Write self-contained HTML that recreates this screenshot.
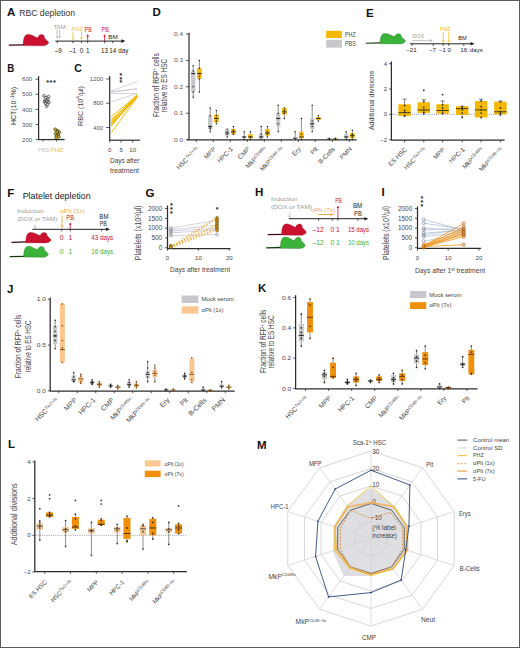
<!DOCTYPE html>
<html><head><meta charset="utf-8"><style>
html,body{margin:0;padding:0;background:#fff;}
body{width:520px;height:648px;overflow:hidden;}
svg{display:block;font-family:"Liberation Sans", sans-serif;}
</style></head><body>
<svg width="520" height="648" viewBox="0 0 520 648">
<rect x="0" y="0" width="520" height="648" fill="#fff"/>
<text x="6.90" y="15.90" font-size="11.5" fill="#111" font-weight="bold">A</text>
<text x="19.20" y="16.20" font-size="9.0" fill="#333" textLength="55.8" lengthAdjust="spacingAndGlyphs">RBC depletion</text>
<g transform="translate(0.00 0.00) scale(1.000 1.000)">
<path d="M8.8,45.1 L24.2,44.8" fill="none" stroke="#3a0a10" stroke-width="1.35"/>
<path d="M23.4,45.6 C23.0,41.5 23.8,36.0 26.5,34.8 C28.0,34.1 30.0,34.3 32.0,35.3 C34.0,36.3 36.0,37.3 37.6,38.1 C38.0,36.0 39.8,34.6 41.6,34.6 C43.4,34.6 44.8,36.0 44.4,37.9 C45.8,39.4 47.6,41.0 48.8,42.6 C47.5,44.8 45.5,45.8 43.0,45.8 Z" fill="#CC1030" stroke="#7a0818" stroke-width="0.35"/>
</g>
<line x1="55.40" y1="41.10" x2="123.40" y2="41.10" stroke="#222" stroke-width="1.0"/>
<path d="M121.40,39.30 L125.40,41.10 L121.40,42.90 Z" fill="#222" stroke="none" stroke-width="0.8"/>
<line x1="57.40" y1="41.10" x2="57.40" y2="43.20" stroke="#222" stroke-width="0.8"/>
<line x1="73.00" y1="41.10" x2="73.00" y2="43.20" stroke="#222" stroke-width="0.8"/>
<line x1="81.50" y1="41.10" x2="81.50" y2="43.20" stroke="#222" stroke-width="0.8"/>
<line x1="87.70" y1="41.10" x2="87.70" y2="43.20" stroke="#222" stroke-width="0.8"/>
<line x1="104.60" y1="41.10" x2="104.60" y2="43.20" stroke="#222" stroke-width="0.8"/>
<line x1="112.80" y1="41.10" x2="112.80" y2="43.20" stroke="#222" stroke-width="0.8"/>
<text x="58.20" y="53.00" font-size="6.3" text-anchor="middle" fill="#222">–9</text>
<text x="72.60" y="53.00" font-size="6.3" text-anchor="middle" fill="#222">–1</text>
<text x="81.50" y="53.00" font-size="6.3" text-anchor="middle" fill="#222">0</text>
<text x="87.70" y="53.00" font-size="6.3" text-anchor="middle" fill="#222">1</text>
<text x="104.60" y="53.00" font-size="6.3" text-anchor="middle" fill="#222">13</text>
<text x="112.80" y="53.00" font-size="6.3" text-anchor="middle" fill="#222">14</text>
<text x="118.30" y="53.00" font-size="6.3" fill="#222" textLength="10" lengthAdjust="spacingAndGlyphs">day</text>
<text x="53.80" y="28.50" font-size="5.8" fill="#999" textLength="11.6" lengthAdjust="spacingAndGlyphs">TAM</text>
<line x1="57.00" y1="29.50" x2="57.00" y2="37.12" stroke="#999" stroke-width="0.6"/>
<path d="M56.00,36.40 L57.00,38.20 L58.00,36.40" fill="none" stroke="#999" stroke-width="0.6"/>
<line x1="59.60" y1="29.50" x2="59.60" y2="37.12" stroke="#999" stroke-width="0.6"/>
<path d="M58.60,36.40 L59.60,38.20 L60.60,36.40" fill="none" stroke="#999" stroke-width="0.6"/>
<text x="71.50" y="30.80" font-size="5.8" fill="#EEC53A" textLength="11.5" lengthAdjust="spacingAndGlyphs">PHZ</text>
<line x1="73.00" y1="32.00" x2="73.00" y2="38.30" stroke="#E8B800" stroke-width="0.7"/>
<path d="M71.90,37.50 L73.00,39.50 L74.10,37.50" fill="none" stroke="#E8B800" stroke-width="0.7"/>
<line x1="81.50" y1="32.00" x2="81.50" y2="38.30" stroke="#E8B800" stroke-width="0.7"/>
<path d="M80.40,37.50 L81.50,39.50 L82.60,37.50" fill="none" stroke="#E8B800" stroke-width="0.7"/>
<text x="84.60" y="31.50" font-size="6.3" fill="#CC1030" textLength="7.2" lengthAdjust="spacingAndGlyphs">PB</text>
<text x="101.50" y="31.50" font-size="6.3" fill="#CC1030" textLength="7.3" lengthAdjust="spacingAndGlyphs">PB</text>
<line x1="87.70" y1="41.00" x2="87.70" y2="35.40" stroke="#CC1030" stroke-width="0.8"/>
<path d="M86.40,36.50 L87.70,34.30 L89.00,36.50 Z" fill="#CC1030" stroke="none" stroke-width="0.8"/>
<line x1="104.60" y1="41.00" x2="104.60" y2="35.40" stroke="#CC1030" stroke-width="0.8"/>
<path d="M103.30,36.50 L104.60,34.30 L105.90,36.50 Z" fill="#CC1030" stroke="none" stroke-width="0.8"/>
<text x="108.20" y="38.80" font-size="5.5" fill="#222" textLength="9.5" lengthAdjust="spacingAndGlyphs">BM</text>
<text x="7.20" y="71.60" font-size="11.5" fill="#111" font-weight="bold" textLength="7.0" lengthAdjust="spacingAndGlyphs">B</text>
<line x1="38.60" y1="75.90" x2="38.60" y2="139.60" stroke="#2c2c2c" stroke-width="1.2"/>
<line x1="35.60" y1="139.60" x2="38.60" y2="139.60" stroke="#2c2c2c" stroke-width="0.8"/>
<text x="32.20" y="141.70" font-size="6.0" text-anchor="end" fill="#555" textLength="10.2" lengthAdjust="spacingAndGlyphs">200</text>
<line x1="35.60" y1="124.50" x2="38.60" y2="124.50" stroke="#2c2c2c" stroke-width="0.8"/>
<text x="32.20" y="126.60" font-size="6.0" text-anchor="end" fill="#555" textLength="10.2" lengthAdjust="spacingAndGlyphs">300</text>
<line x1="35.60" y1="109.40" x2="38.60" y2="109.40" stroke="#2c2c2c" stroke-width="0.8"/>
<text x="32.20" y="111.50" font-size="6.0" text-anchor="end" fill="#555" textLength="10.2" lengthAdjust="spacingAndGlyphs">400</text>
<line x1="35.60" y1="94.30" x2="38.60" y2="94.30" stroke="#2c2c2c" stroke-width="0.8"/>
<text x="32.20" y="96.40" font-size="6.0" text-anchor="end" fill="#555" textLength="10.2" lengthAdjust="spacingAndGlyphs">500</text>
<line x1="35.60" y1="79.20" x2="38.60" y2="79.20" stroke="#2c2c2c" stroke-width="0.8"/>
<text x="32.20" y="81.30" font-size="6.0" text-anchor="end" fill="#555" textLength="10.2" lengthAdjust="spacingAndGlyphs">600</text>
<line x1="38.10" y1="139.60" x2="64.60" y2="139.60" stroke="#2c2c2c" stroke-width="1.2"/>
<line x1="43.00" y1="139.60" x2="43.00" y2="141.60" stroke="#2c2c2c" stroke-width="0.8"/>
<line x1="56.70" y1="139.60" x2="56.70" y2="141.60" stroke="#2c2c2c" stroke-width="0.8"/>
<circle cx="44.00" cy="95.81" r="1.3" fill="none" stroke="#3a3a3a" stroke-width="0.75"/>
<circle cx="46.00" cy="97.62" r="1.3" fill="none" stroke="#3a3a3a" stroke-width="0.75"/>
<circle cx="48.00" cy="98.83" r="1.3" fill="none" stroke="#3a3a3a" stroke-width="0.75"/>
<circle cx="45.00" cy="100.04" r="1.3" fill="none" stroke="#3a3a3a" stroke-width="0.75"/>
<circle cx="47.00" cy="101.09" r="1.3" fill="none" stroke="#3a3a3a" stroke-width="0.75"/>
<circle cx="49.00" cy="102.15" r="1.3" fill="none" stroke="#3a3a3a" stroke-width="0.75"/>
<circle cx="45.50" cy="103.36" r="1.3" fill="none" stroke="#3a3a3a" stroke-width="0.75"/>
<circle cx="47.50" cy="104.57" r="1.3" fill="none" stroke="#3a3a3a" stroke-width="0.75"/>
<circle cx="46.50" cy="106.38" r="1.3" fill="none" stroke="#3a3a3a" stroke-width="0.75"/>
<circle cx="44.50" cy="101.85" r="1.3" fill="none" stroke="#3a3a3a" stroke-width="0.75"/>
<circle cx="48.50" cy="96.56" r="1.3" fill="none" stroke="#3a3a3a" stroke-width="0.75"/>
<circle cx="55.20" cy="129.33" r="1.4" fill="#E8C010" stroke="#2a2a1a" stroke-width="0.7"/>
<circle cx="57.70" cy="130.84" r="1.4" fill="#E8C010" stroke="#2a2a1a" stroke-width="0.7"/>
<circle cx="59.20" cy="132.35" r="1.4" fill="#E8C010" stroke="#2a2a1a" stroke-width="0.7"/>
<circle cx="55.70" cy="133.56" r="1.4" fill="#E8C010" stroke="#2a2a1a" stroke-width="0.7"/>
<circle cx="58.20" cy="134.77" r="1.4" fill="#E8C010" stroke="#2a2a1a" stroke-width="0.7"/>
<circle cx="56.70" cy="135.82" r="1.4" fill="#E8C010" stroke="#2a2a1a" stroke-width="0.7"/>
<circle cx="58.70" cy="136.88" r="1.4" fill="#E8C010" stroke="#2a2a1a" stroke-width="0.7"/>
<circle cx="56.20" cy="137.34" r="1.4" fill="#E8C010" stroke="#2a2a1a" stroke-width="0.7"/>
<circle cx="57.20" cy="132.05" r="1.4" fill="#E8C010" stroke="#2a2a1a" stroke-width="0.7"/>
<text x="47.60" y="84.80" font-size="7.5" text-anchor="middle" fill="#222" font-weight="bold">*</text>
<text x="51.00" y="84.80" font-size="7.5" text-anchor="middle" fill="#222" font-weight="bold">*</text>
<text x="54.40" y="84.80" font-size="7.5" text-anchor="middle" fill="#222" font-weight="bold">*</text>
<text x="38.00" y="151.50" font-size="6.0" fill="#c8c8c8" textLength="11.4" lengthAdjust="spacingAndGlyphs">PBS</text>
<text x="50.40" y="151.50" font-size="6.0" fill="#F2C23A" textLength="12.9" lengthAdjust="spacingAndGlyphs">PHZ</text>
<text x="16.00" y="106.00" font-size="7.0" text-anchor="middle" fill="#333" transform="rotate(-90 16.00 106.00)">HCT(10<tspan font-size="4.5" dy="-2.2">−1</tspan><tspan dy="2.2">%)</tspan></text>
<text x="74.20" y="71.80" font-size="11.5" fill="#111" font-weight="bold" textLength="7.6" lengthAdjust="spacingAndGlyphs">C</text>
<line x1="109.70" y1="75.90" x2="109.70" y2="140.20" stroke="#2c2c2c" stroke-width="1.2"/>
<line x1="106.20" y1="127.50" x2="109.50" y2="127.50" stroke="#2c2c2c" stroke-width="0.8"/>
<text x="103.20" y="129.60" font-size="6.0" text-anchor="end" fill="#555">400</text>
<line x1="106.20" y1="103.22" x2="109.50" y2="103.22" stroke="#2c2c2c" stroke-width="0.8"/>
<text x="103.20" y="105.32" font-size="6.0" text-anchor="end" fill="#555">800</text>
<line x1="106.20" y1="78.94" x2="109.50" y2="78.94" stroke="#2c2c2c" stroke-width="0.8"/>
<text x="103.20" y="81.04" font-size="6.0" text-anchor="end" fill="#555">1200</text>
<line x1="109.20" y1="140.20" x2="139.90" y2="140.20" stroke="#2c2c2c" stroke-width="1.2"/>
<line x1="109.70" y1="140.20" x2="109.70" y2="142.60" stroke="#2c2c2c" stroke-width="0.8"/>
<text x="109.70" y="151.70" font-size="6.0" text-anchor="middle" fill="#444">0</text>
<line x1="121.10" y1="140.20" x2="121.10" y2="142.60" stroke="#2c2c2c" stroke-width="0.8"/>
<text x="121.10" y="151.70" font-size="6.0" text-anchor="middle" fill="#444">5</text>
<line x1="132.70" y1="140.20" x2="132.70" y2="142.60" stroke="#2c2c2c" stroke-width="0.8"/>
<text x="132.70" y="151.70" font-size="6.0" text-anchor="middle" fill="#444">10</text>
<text x="110.00" y="163.40" font-size="8" fill="#444" textLength="29.4" lengthAdjust="spacingAndGlyphs">Days after</text>
<text x="110.00" y="173.30" font-size="8" fill="#444" textLength="29" lengthAdjust="spacingAndGlyphs">treatment</text>
<text x="82.50" y="106.00" font-size="7.5" text-anchor="middle" fill="#444" textLength="40" lengthAdjust="spacingAndGlyphs" transform="rotate(-90 82.50 106.00)">RBC (10<tspan font-size="5" dy="-2.5">4</tspan><tspan dy="2.5">/µl)</tspan></text>
<line x1="111.30" y1="91.00" x2="137.20" y2="81.50" stroke="#bdb8c8" stroke-width="0.6"/>
<line x1="111.30" y1="91.60" x2="137.20" y2="89.40" stroke="#bdb8c8" stroke-width="0.6"/>
<line x1="111.30" y1="93.60" x2="137.20" y2="93.40" stroke="#bdb8c8" stroke-width="0.6"/>
<line x1="111.30" y1="101.90" x2="137.20" y2="93.40" stroke="#bdb8c8" stroke-width="0.6"/>
<line x1="111.30" y1="92.50" x2="137.20" y2="88.40" stroke="#bdb8c8" stroke-width="0.6"/>
<line x1="111.30" y1="116.60" x2="137.20" y2="95.50" stroke="#F0B800" stroke-width="0.95"/>
<line x1="111.30" y1="119.50" x2="137.20" y2="96.50" stroke="#F0B800" stroke-width="0.95"/>
<line x1="111.30" y1="121.00" x2="137.20" y2="94.30" stroke="#F0B800" stroke-width="0.95"/>
<line x1="111.30" y1="122.00" x2="137.20" y2="97.60" stroke="#F0B800" stroke-width="0.95"/>
<line x1="111.30" y1="122.80" x2="137.20" y2="95.80" stroke="#F0B800" stroke-width="0.95"/>
<line x1="111.30" y1="123.50" x2="137.20" y2="96.80" stroke="#F0B800" stroke-width="0.95"/>
<line x1="111.30" y1="124.20" x2="137.20" y2="95.00" stroke="#F0B800" stroke-width="0.95"/>
<line x1="111.30" y1="125.00" x2="137.20" y2="97.00" stroke="#F0B800" stroke-width="0.95"/>
<line x1="111.30" y1="126.00" x2="137.20" y2="96.00" stroke="#F0B800" stroke-width="0.95"/>
<line x1="111.30" y1="132.70" x2="137.20" y2="97.20" stroke="#F0B800" stroke-width="0.95"/>
<text x="120.90" y="77.62" font-size="7.0" text-anchor="middle" fill="#222" font-weight="bold">*</text>
<text x="120.90" y="81.52" font-size="7.0" text-anchor="middle" fill="#222" font-weight="bold">*</text>
<text x="120.90" y="85.32" font-size="7.0" text-anchor="middle" fill="#222" font-weight="bold">*</text>
<text x="152.50" y="16.30" font-size="11.5" fill="#111" font-weight="bold">D</text>
<line x1="189.00" y1="32.70" x2="189.00" y2="139.60" stroke="#2c2c2c" stroke-width="1.2"/>
<line x1="186.00" y1="139.60" x2="189.00" y2="139.60" stroke="#2c2c2c" stroke-width="0.8"/>
<text x="183.00" y="141.60" font-size="5.8" text-anchor="end" fill="#555" textLength="9.0" lengthAdjust="spacingAndGlyphs">0.0</text>
<line x1="186.00" y1="113.20" x2="189.00" y2="113.20" stroke="#2c2c2c" stroke-width="0.8"/>
<text x="183.00" y="115.20" font-size="5.8" text-anchor="end" fill="#555" textLength="9.0" lengthAdjust="spacingAndGlyphs">0.1</text>
<line x1="186.00" y1="86.80" x2="189.00" y2="86.80" stroke="#2c2c2c" stroke-width="0.8"/>
<text x="183.00" y="88.80" font-size="5.8" text-anchor="end" fill="#555" textLength="9.0" lengthAdjust="spacingAndGlyphs">0.2</text>
<line x1="186.00" y1="60.40" x2="189.00" y2="60.40" stroke="#2c2c2c" stroke-width="0.8"/>
<text x="183.00" y="62.40" font-size="5.8" text-anchor="end" fill="#555" textLength="9.0" lengthAdjust="spacingAndGlyphs">0.3</text>
<line x1="186.00" y1="34.00" x2="189.00" y2="34.00" stroke="#2c2c2c" stroke-width="0.8"/>
<text x="183.00" y="36.00" font-size="5.8" text-anchor="end" fill="#555" textLength="9.0" lengthAdjust="spacingAndGlyphs">0.4</text>
<line x1="187.00" y1="139.80" x2="356.70" y2="139.80" stroke="#2c2c2c" stroke-width="1.2"/>
<rect x="326.20" y="30.80" width="15.70" height="7.20" fill="#F5B800"/>
<rect x="326.20" y="39.80" width="15.70" height="7.80" fill="#C7C7CC"/>
<text x="345.00" y="36.90" font-size="6.4" fill="#444" textLength="10.8" lengthAdjust="spacingAndGlyphs">PHZ</text>
<text x="345.00" y="45.90" font-size="6.4" fill="#444" textLength="10.8" lengthAdjust="spacingAndGlyphs">PBS</text>
<text x="158.57" y="85.10" font-size="8.6" text-anchor="middle" fill="#444" textLength="64" lengthAdjust="spacingAndGlyphs" transform="rotate(-90 158.57 85.10)">Fraction of RFP<tspan font-size="5" dy="-2.5">+</tspan><tspan dy="2.5"> cells</tspan></text>
<text x="167.07" y="85.50" font-size="8.6" text-anchor="middle" fill="#444" textLength="53.5" lengthAdjust="spacingAndGlyphs" transform="rotate(-90 167.07 85.50)">relative to ES HSC</text>
<line x1="196.30" y1="139.80" x2="196.30" y2="142.00" stroke="#2c2c2c" stroke-width="0.8"/>
<line x1="193.20" y1="65.68" x2="193.20" y2="97.36" stroke="#333" stroke-width="0.55"/>
<rect x="191.10" y="70.96" width="4.20" height="21.12" fill="#C7C7CC"/>
<line x1="191.10" y1="73.60" x2="195.30" y2="73.60" stroke="#222" stroke-width="0.9"/>
<circle cx="193.20" cy="92.08" r="0.75" fill="#222"/>
<circle cx="193.20" cy="73.60" r="0.75" fill="#222"/>
<circle cx="193.20" cy="70.96" r="0.75" fill="#222"/>
<circle cx="193.20" cy="86.80" r="0.75" fill="#222"/>
<circle cx="193.20" cy="65.68" r="0.75" fill="#222" stroke="none" stroke-width="0.5"/>
<circle cx="193.20" cy="97.36" r="0.75" fill="#222" stroke="none" stroke-width="0.5"/>
<line x1="199.40" y1="60.40" x2="199.40" y2="92.08" stroke="#333" stroke-width="0.55"/>
<rect x="197.10" y="68.32" width="4.60" height="10.56" fill="#F5B800"/>
<line x1="197.10" y1="73.60" x2="201.70" y2="73.60" stroke="#222" stroke-width="0.9"/>
<circle cx="199.40" cy="78.88" r="0.75" fill="#222"/>
<circle cx="199.40" cy="73.60" r="0.75" fill="#222"/>
<circle cx="199.40" cy="68.32" r="0.75" fill="#222"/>
<circle cx="199.40" cy="76.24" r="0.75" fill="#222"/>
<circle cx="199.40" cy="60.40" r="0.75" fill="#222" stroke="none" stroke-width="0.5"/>
<circle cx="199.40" cy="92.08" r="0.75" fill="#222" stroke="none" stroke-width="0.5"/>
<line x1="213.30" y1="139.80" x2="213.30" y2="142.00" stroke="#2c2c2c" stroke-width="0.8"/>
<line x1="210.20" y1="107.92" x2="210.20" y2="131.68" stroke="#333" stroke-width="0.55"/>
<rect x="208.10" y="115.84" width="4.20" height="13.20" fill="#C7C7CC"/>
<line x1="208.10" y1="126.40" x2="212.30" y2="126.40" stroke="#222" stroke-width="0.9"/>
<circle cx="210.20" cy="129.04" r="0.75" fill="#222"/>
<circle cx="210.20" cy="126.40" r="0.75" fill="#222"/>
<circle cx="210.20" cy="115.84" r="0.75" fill="#222"/>
<circle cx="210.20" cy="127.72" r="0.75" fill="#222"/>
<circle cx="210.20" cy="107.92" r="0.75" fill="#222" stroke="none" stroke-width="0.5"/>
<circle cx="210.20" cy="131.68" r="0.75" fill="#222" stroke="none" stroke-width="0.5"/>
<line x1="216.40" y1="110.56" x2="216.40" y2="123.76" stroke="#333" stroke-width="0.55"/>
<rect x="214.10" y="114.52" width="4.60" height="7.92" fill="#F5B800"/>
<line x1="214.10" y1="118.48" x2="218.70" y2="118.48" stroke="#222" stroke-width="0.9"/>
<circle cx="216.40" cy="121.12" r="0.75" fill="#222"/>
<circle cx="216.40" cy="118.48" r="0.75" fill="#222"/>
<circle cx="216.40" cy="115.84" r="0.75" fill="#222"/>
<circle cx="216.40" cy="110.56" r="0.75" fill="#222" stroke="none" stroke-width="0.5"/>
<circle cx="216.40" cy="123.76" r="0.75" fill="#222" stroke="none" stroke-width="0.5"/>
<line x1="230.30" y1="139.80" x2="230.30" y2="142.00" stroke="#2c2c2c" stroke-width="0.8"/>
<line x1="227.20" y1="129.04" x2="227.20" y2="136.96" stroke="#333" stroke-width="0.55"/>
<rect x="225.10" y="129.04" width="4.20" height="6.60" fill="#C7C7CC"/>
<line x1="225.10" y1="133.00" x2="229.30" y2="133.00" stroke="#222" stroke-width="0.9"/>
<circle cx="227.20" cy="134.32" r="0.75" fill="#222"/>
<circle cx="227.20" cy="131.68" r="0.75" fill="#222"/>
<circle cx="227.20" cy="129.04" r="0.75" fill="#222" stroke="none" stroke-width="0.5"/>
<circle cx="227.20" cy="136.96" r="0.75" fill="#222" stroke="none" stroke-width="0.5"/>
<line x1="233.40" y1="126.40" x2="233.40" y2="134.32" stroke="#333" stroke-width="0.55"/>
<rect x="231.10" y="129.04" width="4.60" height="5.28" fill="#F5B800"/>
<line x1="231.10" y1="131.68" x2="235.70" y2="131.68" stroke="#222" stroke-width="0.9"/>
<circle cx="233.40" cy="133.00" r="0.75" fill="#222"/>
<circle cx="233.40" cy="130.36" r="0.75" fill="#222"/>
<circle cx="233.40" cy="126.40" r="0.75" fill="#222" stroke="none" stroke-width="0.5"/>
<circle cx="233.40" cy="134.32" r="0.75" fill="#222" stroke="none" stroke-width="0.5"/>
<line x1="247.30" y1="139.80" x2="247.30" y2="142.00" stroke="#2c2c2c" stroke-width="0.8"/>
<line x1="244.20" y1="131.68" x2="244.20" y2="139.60" stroke="#333" stroke-width="0.55"/>
<rect x="242.10" y="136.43" width="4.20" height="1.85" fill="#C7C7CC"/>
<line x1="242.10" y1="136.96" x2="246.30" y2="136.96" stroke="#222" stroke-width="0.9"/>
<circle cx="244.20" cy="136.96" r="0.75" fill="#222"/>
<circle cx="244.20" cy="131.68" r="0.75" fill="#222" stroke="none" stroke-width="0.5"/>
<circle cx="244.20" cy="139.60" r="0.75" fill="#222" stroke="none" stroke-width="0.5"/>
<line x1="250.40" y1="131.68" x2="250.40" y2="139.60" stroke="#333" stroke-width="0.55"/>
<rect x="248.10" y="134.32" width="4.60" height="3.96" fill="#F5B800"/>
<line x1="248.10" y1="136.96" x2="252.70" y2="136.96" stroke="#222" stroke-width="0.9"/>
<circle cx="250.40" cy="136.96" r="0.75" fill="#222"/>
<circle cx="250.40" cy="131.68" r="0.75" fill="#222" stroke="none" stroke-width="0.5"/>
<circle cx="250.40" cy="139.60" r="0.75" fill="#222" stroke="none" stroke-width="0.5"/>
<line x1="264.30" y1="139.80" x2="264.30" y2="142.00" stroke="#2c2c2c" stroke-width="0.8"/>
<line x1="261.20" y1="126.40" x2="261.20" y2="139.60" stroke="#333" stroke-width="0.55"/>
<rect x="259.10" y="134.32" width="4.20" height="3.96" fill="#C7C7CC"/>
<line x1="259.10" y1="136.96" x2="263.30" y2="136.96" stroke="#222" stroke-width="0.9"/>
<circle cx="261.20" cy="136.96" r="0.75" fill="#222"/>
<circle cx="261.20" cy="134.32" r="0.75" fill="#222"/>
<circle cx="261.20" cy="126.40" r="0.75" fill="#222" stroke="none" stroke-width="0.5"/>
<circle cx="261.20" cy="139.60" r="0.75" fill="#222" stroke="none" stroke-width="0.5"/>
<line x1="267.40" y1="126.40" x2="267.40" y2="136.96" stroke="#333" stroke-width="0.55"/>
<rect x="265.10" y="129.04" width="4.60" height="6.60" fill="#F5B800"/>
<line x1="265.10" y1="133.00" x2="269.70" y2="133.00" stroke="#222" stroke-width="0.9"/>
<circle cx="267.40" cy="134.32" r="0.75" fill="#222"/>
<circle cx="267.40" cy="131.68" r="0.75" fill="#222"/>
<circle cx="267.40" cy="126.40" r="0.75" fill="#222" stroke="none" stroke-width="0.5"/>
<circle cx="267.40" cy="136.96" r="0.75" fill="#222" stroke="none" stroke-width="0.5"/>
<line x1="281.30" y1="139.80" x2="281.30" y2="142.00" stroke="#2c2c2c" stroke-width="0.8"/>
<line x1="278.20" y1="105.28" x2="278.20" y2="131.68" stroke="#333" stroke-width="0.55"/>
<rect x="276.10" y="113.20" width="4.20" height="13.20" fill="#C7C7CC"/>
<line x1="276.10" y1="118.48" x2="280.30" y2="118.48" stroke="#222" stroke-width="0.9"/>
<circle cx="278.20" cy="123.76" r="0.75" fill="#222"/>
<circle cx="278.20" cy="118.48" r="0.75" fill="#222"/>
<circle cx="278.20" cy="113.20" r="0.75" fill="#222"/>
<circle cx="278.20" cy="105.28" r="0.75" fill="#222" stroke="none" stroke-width="0.5"/>
<circle cx="278.20" cy="131.68" r="0.75" fill="#222" stroke="none" stroke-width="0.5"/>
<line x1="284.40" y1="107.92" x2="284.40" y2="118.48" stroke="#333" stroke-width="0.55"/>
<rect x="282.10" y="107.92" width="4.60" height="6.60" fill="#F5B800"/>
<line x1="282.10" y1="111.88" x2="286.70" y2="111.88" stroke="#222" stroke-width="0.9"/>
<circle cx="284.40" cy="113.20" r="0.75" fill="#222"/>
<circle cx="284.40" cy="110.56" r="0.75" fill="#222"/>
<circle cx="284.40" cy="107.92" r="0.75" fill="#222" stroke="none" stroke-width="0.5"/>
<circle cx="284.40" cy="118.48" r="0.75" fill="#222" stroke="none" stroke-width="0.5"/>
<line x1="298.30" y1="139.80" x2="298.30" y2="142.00" stroke="#2c2c2c" stroke-width="0.8"/>
<line x1="295.20" y1="131.68" x2="295.20" y2="139.60" stroke="#333" stroke-width="0.55"/>
<rect x="293.10" y="136.96" width="4.20" height="2.64" fill="#C7C7CC"/>
<line x1="293.10" y1="138.28" x2="297.30" y2="138.28" stroke="#222" stroke-width="0.9"/>
<circle cx="295.20" cy="131.68" r="0.75" fill="#222" stroke="none" stroke-width="0.5"/>
<circle cx="295.20" cy="139.60" r="0.75" fill="#222" stroke="none" stroke-width="0.5"/>
<line x1="301.40" y1="118.48" x2="301.40" y2="139.60" stroke="#333" stroke-width="0.55"/>
<rect x="299.10" y="131.68" width="4.60" height="6.60" fill="#F5B800"/>
<line x1="299.10" y1="136.96" x2="303.70" y2="136.96" stroke="#222" stroke-width="0.9"/>
<circle cx="301.40" cy="134.32" r="0.75" fill="#222"/>
<circle cx="301.40" cy="118.48" r="0.75" fill="#222" stroke="none" stroke-width="0.5"/>
<circle cx="301.40" cy="139.60" r="0.75" fill="#222" stroke="none" stroke-width="0.5"/>
<line x1="315.30" y1="139.80" x2="315.30" y2="142.00" stroke="#2c2c2c" stroke-width="0.8"/>
<line x1="312.20" y1="105.28" x2="312.20" y2="131.68" stroke="#333" stroke-width="0.55"/>
<rect x="310.10" y="118.48" width="4.20" height="10.56" fill="#C7C7CC"/>
<line x1="310.10" y1="123.76" x2="314.30" y2="123.76" stroke="#222" stroke-width="0.9"/>
<circle cx="312.20" cy="126.40" r="0.75" fill="#222"/>
<circle cx="312.20" cy="123.76" r="0.75" fill="#222"/>
<circle cx="312.20" cy="121.12" r="0.75" fill="#222"/>
<circle cx="312.20" cy="105.28" r="0.75" fill="#222" stroke="none" stroke-width="0.5"/>
<circle cx="312.20" cy="131.68" r="0.75" fill="#222" stroke="none" stroke-width="0.5"/>
<line x1="318.40" y1="115.84" x2="318.40" y2="121.12" stroke="#333" stroke-width="0.55"/>
<rect x="316.10" y="117.16" width="4.60" height="2.64" fill="#F5B800"/>
<line x1="316.10" y1="118.48" x2="320.70" y2="118.48" stroke="#222" stroke-width="0.9"/>
<circle cx="318.40" cy="118.48" r="0.75" fill="#222"/>
<circle cx="318.40" cy="115.84" r="0.75" fill="#222" stroke="none" stroke-width="0.5"/>
<circle cx="318.40" cy="121.12" r="0.75" fill="#222" stroke="none" stroke-width="0.5"/>
<line x1="332.30" y1="139.80" x2="332.30" y2="142.00" stroke="#2c2c2c" stroke-width="0.8"/>
<line x1="329.20" y1="138.28" x2="329.20" y2="139.60" stroke="#333" stroke-width="0.55"/>
<rect x="327.10" y="138.54" width="4.20" height="1.06" fill="#C7C7CC"/>
<line x1="327.10" y1="139.07" x2="331.30" y2="139.07" stroke="#222" stroke-width="0.9"/>
<circle cx="329.20" cy="138.28" r="0.75" fill="#222" stroke="none" stroke-width="0.5"/>
<circle cx="329.20" cy="139.60" r="0.75" fill="#222" stroke="none" stroke-width="0.5"/>
<line x1="335.40" y1="138.28" x2="335.40" y2="139.60" stroke="#333" stroke-width="0.55"/>
<rect x="333.10" y="138.54" width="4.60" height="1.06" fill="#F5B800"/>
<line x1="333.10" y1="139.07" x2="337.70" y2="139.07" stroke="#222" stroke-width="0.9"/>
<circle cx="335.40" cy="138.28" r="0.75" fill="#222" stroke="none" stroke-width="0.5"/>
<circle cx="335.40" cy="139.60" r="0.75" fill="#222" stroke="none" stroke-width="0.5"/>
<line x1="349.30" y1="139.80" x2="349.30" y2="142.00" stroke="#2c2c2c" stroke-width="0.8"/>
<line x1="346.20" y1="131.68" x2="346.20" y2="139.60" stroke="#333" stroke-width="0.55"/>
<rect x="344.10" y="134.32" width="4.20" height="3.96" fill="#C7C7CC"/>
<line x1="344.10" y1="136.96" x2="348.30" y2="136.96" stroke="#222" stroke-width="0.9"/>
<circle cx="346.20" cy="136.96" r="0.75" fill="#222"/>
<circle cx="346.20" cy="131.68" r="0.75" fill="#222" stroke="none" stroke-width="0.5"/>
<circle cx="346.20" cy="139.60" r="0.75" fill="#222" stroke="none" stroke-width="0.5"/>
<line x1="352.40" y1="130.36" x2="352.40" y2="139.60" stroke="#333" stroke-width="0.55"/>
<rect x="350.10" y="133.00" width="4.60" height="5.28" fill="#F5B800"/>
<line x1="350.10" y1="135.64" x2="354.70" y2="135.64" stroke="#222" stroke-width="0.9"/>
<circle cx="352.40" cy="136.96" r="0.75" fill="#222"/>
<circle cx="352.40" cy="134.32" r="0.75" fill="#222"/>
<circle cx="352.40" cy="130.36" r="0.75" fill="#222" stroke="none" stroke-width="0.5"/>
<circle cx="352.40" cy="139.60" r="0.75" fill="#222" stroke="none" stroke-width="0.5"/>
<text x="199.30" y="149.60" font-size="6.4" text-anchor="end" fill="#444" transform="rotate(-45 199.30 149.60)">HSC<tspan font-size="4.3" dy="-2.2">Tie2+/lo</tspan></text>
<text x="216.30" y="149.60" font-size="6.4" text-anchor="end" fill="#444" transform="rotate(-45 216.30 149.60)">MPP</text>
<text x="233.30" y="149.60" font-size="6.4" text-anchor="end" fill="#444" transform="rotate(-45 233.30 149.60)">HPC-1</text>
<text x="250.30" y="149.60" font-size="6.4" text-anchor="end" fill="#444" transform="rotate(-45 250.30 149.60)">CMP</text>
<text x="267.30" y="149.60" font-size="6.4" text-anchor="end" fill="#444" transform="rotate(-45 267.30 149.60)">MkP<tspan font-size="4.3" dy="-2.2">CD48hi</tspan></text>
<text x="284.30" y="149.60" font-size="6.4" text-anchor="end" fill="#444" transform="rotate(-45 284.30 149.60)">MkP<tspan font-size="4.3" dy="-2.2">CD48−/lo</tspan></text>
<text x="301.30" y="149.60" font-size="6.4" text-anchor="end" fill="#444" transform="rotate(-45 301.30 149.60)">Ery</text>
<text x="318.30" y="149.60" font-size="6.4" text-anchor="end" fill="#444" transform="rotate(-45 318.30 149.60)">Plt</text>
<text x="335.30" y="149.60" font-size="6.4" text-anchor="end" fill="#444" transform="rotate(-45 335.30 149.60)">B-Cells</text>
<text x="352.30" y="149.60" font-size="6.4" text-anchor="end" fill="#444" transform="rotate(-45 352.30 149.60)">PMN</text>
<text x="366.00" y="17.20" font-size="11.5" fill="#111" font-weight="bold">E</text>
<g transform="translate(356.92 2.08) scale(0.998 0.913)">
<path d="M8.8,45.1 L24.2,44.8" fill="none" stroke="#143a12" stroke-width="1.35"/>
<path d="M23.4,45.6 C23.0,41.5 23.8,36.0 26.5,34.8 C28.0,34.1 30.0,34.3 32.0,35.3 C34.0,36.3 36.0,37.3 37.6,38.1 C38.0,36.0 39.8,34.6 41.6,34.6 C43.4,34.6 44.8,36.0 44.4,37.9 C45.8,39.4 47.6,41.0 48.8,42.6 C47.5,44.8 45.5,45.8 43.0,45.8 Z" fill="#3BB23A" stroke="#1a6a18" stroke-width="0.35"/>
</g>
<line x1="410.00" y1="43.80" x2="472.50" y2="43.80" stroke="#222" stroke-width="1.0"/>
<path d="M470.50,42.00 L474.50,43.80 L470.50,45.60 Z" fill="#222" stroke="none" stroke-width="0.8"/>
<line x1="412.00" y1="43.80" x2="412.00" y2="45.80" stroke="#222" stroke-width="0.8"/>
<line x1="433.25" y1="43.80" x2="433.25" y2="45.80" stroke="#222" stroke-width="0.8"/>
<line x1="443.25" y1="43.80" x2="443.25" y2="45.80" stroke="#222" stroke-width="0.8"/>
<line x1="448.75" y1="43.80" x2="448.75" y2="45.80" stroke="#222" stroke-width="0.8"/>
<line x1="463.75" y1="43.80" x2="463.75" y2="45.80" stroke="#222" stroke-width="0.8"/>
<text x="411.50" y="52.30" font-size="6.2" text-anchor="middle" fill="#222">–21</text>
<text x="432.50" y="52.30" font-size="6.2" text-anchor="middle" fill="#222">–7</text>
<text x="442.50" y="52.30" font-size="6.2" text-anchor="middle" fill="#222">–1</text>
<text x="449.20" y="52.30" font-size="6.2" text-anchor="middle" fill="#222">0</text>
<text x="463.75" y="52.30" font-size="6.2" text-anchor="middle" fill="#222">16</text>
<text x="469.80" y="52.30" font-size="6.2" fill="#222" textLength="13" lengthAdjust="spacingAndGlyphs">days</text>
<text x="412.50" y="37.60" font-size="5.8" fill="#9a9a9a" textLength="11.5" lengthAdjust="spacingAndGlyphs">DOX</text>
<line x1="412.00" y1="40.60" x2="431.00" y2="40.60" stroke="#999" stroke-width="0.6"/>
<path d="M429.5,39.4 L432.3,40.6 L429.5,41.8" fill="none" stroke="#999" stroke-width="0.6"/>
<text x="440.00" y="30.60" font-size="5.8" fill="#F2C000" textLength="10.5" lengthAdjust="spacingAndGlyphs">PHZ</text>
<line x1="443.25" y1="32.00" x2="443.25" y2="41.10" stroke="#E8B800" stroke-width="0.7"/>
<path d="M442.15,40.30 L443.25,42.30 L444.35,40.30" fill="none" stroke="#E8B800" stroke-width="0.7"/>
<line x1="448.75" y1="32.00" x2="448.75" y2="41.10" stroke="#E8B800" stroke-width="0.7"/>
<path d="M447.65,40.30 L448.75,42.30 L449.85,40.30" fill="none" stroke="#E8B800" stroke-width="0.7"/>
<text x="458.20" y="40.20" font-size="5.5" fill="#222" textLength="8.6" lengthAdjust="spacingAndGlyphs">BM</text>
<line x1="391.40" y1="61.50" x2="391.40" y2="140.20" stroke="#2c2c2c" stroke-width="1.25"/>
<line x1="389.00" y1="63.70" x2="391.40" y2="63.70" stroke="#2c2c2c" stroke-width="0.8"/>
<text x="387.20" y="65.80" font-size="6.0" text-anchor="end" fill="#444">4</text>
<line x1="389.00" y1="89.00" x2="391.40" y2="89.00" stroke="#2c2c2c" stroke-width="0.8"/>
<text x="387.20" y="91.10" font-size="6.0" text-anchor="end" fill="#444">2</text>
<line x1="389.00" y1="114.30" x2="391.40" y2="114.30" stroke="#2c2c2c" stroke-width="0.8"/>
<text x="387.20" y="116.40" font-size="6.0" text-anchor="end" fill="#444">0</text>
<line x1="389.00" y1="139.60" x2="391.40" y2="139.60" stroke="#2c2c2c" stroke-width="0.8"/>
<text x="387.20" y="141.70" font-size="6.0" text-anchor="end" fill="#444">−2</text>
<line x1="391.00" y1="140.20" x2="504.60" y2="140.20" stroke="#2c2c2c" stroke-width="1.25"/>
<line x1="392" y1="114.30" x2="504.6" y2="114.30" stroke="#444" stroke-width="0.6" stroke-dasharray="1,1.2"/>
<text x="374.35" y="100.40" font-size="7.4" text-anchor="middle" fill="#444" textLength="59.3" lengthAdjust="spacingAndGlyphs" transform="rotate(-90 374.35 100.40)">Additional divisions</text>
<line x1="404.60" y1="99.12" x2="404.60" y2="116.20" stroke="#333" stroke-width="0.6"/>
<line x1="402.40" y1="99.12" x2="406.80" y2="99.12" stroke="#333" stroke-width="0.6"/>
<rect x="398.40" y="104.31" width="12.40" height="11.64" fill="#F5B800"/>
<line x1="398.40" y1="112.66" x2="410.80" y2="112.66" stroke="#333" stroke-width="0.9"/>
<circle cx="404.60" cy="105.44" r="0.9" fill="#333" stroke="none" stroke-width="0.5"/>
<circle cx="404.60" cy="110.50" r="0.9" fill="#333" stroke="none" stroke-width="0.5"/>
<circle cx="404.60" cy="112.40" r="0.9" fill="#333" stroke="none" stroke-width="0.5"/>
<circle cx="404.60" cy="115.56" r="0.9" fill="#333" stroke="none" stroke-width="0.5"/>
<circle cx="404.60" cy="116.20" r="0.9" fill="#333" stroke="none" stroke-width="0.5"/>
<line x1="404.60" y1="140.20" x2="404.60" y2="142.40" stroke="#2c2c2c" stroke-width="0.8"/>
<text x="407.60" y="150.00" font-size="6.4" text-anchor="end" fill="#444" transform="rotate(-45 407.60 150.00)">ES HSC</text>
<line x1="423.80" y1="99.75" x2="423.80" y2="113.67" stroke="#333" stroke-width="0.6"/>
<line x1="421.60" y1="99.75" x2="426.00" y2="99.75" stroke="#333" stroke-width="0.6"/>
<rect x="417.60" y="102.28" width="12.40" height="10.75" fill="#F5B800"/>
<line x1="417.60" y1="110.00" x2="430.00" y2="110.00" stroke="#333" stroke-width="0.9"/>
<circle cx="423.80" cy="101.65" r="0.9" fill="#333" stroke="none" stroke-width="0.5"/>
<circle cx="423.80" cy="107.34" r="0.9" fill="#333" stroke="none" stroke-width="0.5"/>
<circle cx="423.80" cy="109.87" r="0.9" fill="#333" stroke="none" stroke-width="0.5"/>
<circle cx="423.80" cy="112.40" r="0.9" fill="#333" stroke="none" stroke-width="0.5"/>
<circle cx="423.80" cy="113.67" r="0.9" fill="#333" stroke="none" stroke-width="0.5"/>
<circle cx="423.80" cy="90.27" r="0.9" fill="#333" stroke="none" stroke-width="0.5"/>
<line x1="423.80" y1="140.20" x2="423.80" y2="142.40" stroke="#2c2c2c" stroke-width="0.8"/>
<text x="426.80" y="150.00" font-size="6.4" text-anchor="end" fill="#444" transform="rotate(-45 426.80 150.00)">HSC<tspan font-size="4.3" dy="-2.2">Tie2+/lo</tspan></text>
<line x1="442.60" y1="101.02" x2="442.60" y2="113.67" stroke="#333" stroke-width="0.6"/>
<line x1="440.40" y1="101.02" x2="444.80" y2="101.02" stroke="#333" stroke-width="0.6"/>
<rect x="436.40" y="104.18" width="12.40" height="9.49" fill="#F5B800"/>
<line x1="436.40" y1="110.50" x2="448.80" y2="110.50" stroke="#333" stroke-width="0.9"/>
<circle cx="442.60" cy="104.81" r="0.9" fill="#333" stroke="none" stroke-width="0.5"/>
<circle cx="442.60" cy="107.97" r="0.9" fill="#333" stroke="none" stroke-width="0.5"/>
<circle cx="442.60" cy="110.50" r="0.9" fill="#333" stroke="none" stroke-width="0.5"/>
<circle cx="442.60" cy="113.03" r="0.9" fill="#333" stroke="none" stroke-width="0.5"/>
<circle cx="442.60" cy="113.67" r="0.9" fill="#333" stroke="none" stroke-width="0.5"/>
<circle cx="442.60" cy="94.69" r="0.9" fill="#333" stroke="none" stroke-width="0.5"/>
<line x1="442.60" y1="140.20" x2="442.60" y2="142.40" stroke="#2c2c2c" stroke-width="0.8"/>
<text x="445.60" y="150.00" font-size="6.4" text-anchor="end" fill="#444" transform="rotate(-45 445.60 150.00)">MPP</text>
<line x1="462.20" y1="106.20" x2="462.20" y2="117.46" stroke="#333" stroke-width="0.6"/>
<line x1="460.00" y1="106.20" x2="464.40" y2="106.20" stroke="#333" stroke-width="0.6"/>
<rect x="456.00" y="106.20" width="12.40" height="8.73" fill="#F5B800"/>
<line x1="456.00" y1="108.61" x2="468.40" y2="108.61" stroke="#333" stroke-width="0.9"/>
<circle cx="462.20" cy="106.71" r="0.9" fill="#333" stroke="none" stroke-width="0.5"/>
<circle cx="462.20" cy="107.97" r="0.9" fill="#333" stroke="none" stroke-width="0.5"/>
<circle cx="462.20" cy="109.87" r="0.9" fill="#333" stroke="none" stroke-width="0.5"/>
<circle cx="462.20" cy="113.03" r="0.9" fill="#333" stroke="none" stroke-width="0.5"/>
<circle cx="462.20" cy="117.46" r="0.9" fill="#333" stroke="none" stroke-width="0.5"/>
<line x1="462.20" y1="140.20" x2="462.20" y2="142.40" stroke="#2c2c2c" stroke-width="0.8"/>
<text x="465.20" y="150.00" font-size="6.4" text-anchor="end" fill="#444" transform="rotate(-45 465.20 150.00)">HPC-1</text>
<line x1="481.10" y1="99.12" x2="481.10" y2="117.46" stroke="#333" stroke-width="0.6"/>
<line x1="478.90" y1="99.12" x2="483.30" y2="99.12" stroke="#333" stroke-width="0.6"/>
<rect x="474.90" y="101.02" width="12.40" height="16.44" fill="#F5B800"/>
<line x1="474.90" y1="109.87" x2="487.30" y2="109.87" stroke="#333" stroke-width="0.9"/>
<circle cx="481.10" cy="101.02" r="0.9" fill="#333" stroke="none" stroke-width="0.5"/>
<circle cx="481.10" cy="106.71" r="0.9" fill="#333" stroke="none" stroke-width="0.5"/>
<circle cx="481.10" cy="109.87" r="0.9" fill="#333" stroke="none" stroke-width="0.5"/>
<circle cx="481.10" cy="113.03" r="0.9" fill="#333" stroke="none" stroke-width="0.5"/>
<circle cx="481.10" cy="117.46" r="0.9" fill="#333" stroke="none" stroke-width="0.5"/>
<line x1="481.10" y1="140.20" x2="481.10" y2="142.40" stroke="#2c2c2c" stroke-width="0.8"/>
<text x="484.10" y="150.00" font-size="6.4" text-anchor="end" fill="#444" transform="rotate(-45 484.10 150.00)">MkP<tspan font-size="4.3" dy="-2.2">CD48hi</tspan></text>
<line x1="500.40" y1="101.02" x2="500.40" y2="114.93" stroke="#333" stroke-width="0.6"/>
<line x1="498.20" y1="101.02" x2="502.60" y2="101.02" stroke="#333" stroke-width="0.6"/>
<rect x="494.20" y="101.65" width="12.40" height="12.65" fill="#F5B800"/>
<line x1="494.20" y1="111.77" x2="506.60" y2="111.77" stroke="#333" stroke-width="0.9"/>
<circle cx="500.40" cy="101.65" r="0.9" fill="#333" stroke="none" stroke-width="0.5"/>
<circle cx="500.40" cy="107.97" r="0.9" fill="#333" stroke="none" stroke-width="0.5"/>
<circle cx="500.40" cy="111.77" r="0.9" fill="#333" stroke="none" stroke-width="0.5"/>
<circle cx="500.40" cy="113.67" r="0.9" fill="#333" stroke="none" stroke-width="0.5"/>
<circle cx="500.40" cy="114.93" r="0.9" fill="#333" stroke="none" stroke-width="0.5"/>
<line x1="500.40" y1="140.20" x2="500.40" y2="142.40" stroke="#2c2c2c" stroke-width="0.8"/>
<text x="503.40" y="150.00" font-size="6.4" text-anchor="end" fill="#444" transform="rotate(-45 503.40 150.00)">MkP<tspan font-size="4.3" dy="-2.2">CD48−/lo</tspan></text>
<text x="7.30" y="196.90" font-size="11.5" fill="#111" font-weight="bold">F</text>
<text x="22.70" y="199.20" font-size="9.7" fill="#222" textLength="68" lengthAdjust="spacingAndGlyphs">Platelet depletion</text>
<text x="16.90" y="213.00" font-size="5.8" fill="#9a9a9a" textLength="26.9" lengthAdjust="spacingAndGlyphs">Induction</text>
<text x="16.90" y="221.30" font-size="5.8" fill="#9a9a9a" textLength="40.4" lengthAdjust="spacingAndGlyphs">(DOX or TAM)</text>
<text x="60.00" y="213.00" font-size="5.8" fill="#F2AA48" textLength="24.6" lengthAdjust="spacingAndGlyphs">αPlt (1x)</text>
<line x1="62.00" y1="215.60" x2="62.00" y2="226.28" stroke="#F0A030" stroke-width="0.8"/>
<path d="M60.80,225.40 L62.00,227.60 L63.20,225.40" fill="none" stroke="#F0A030" stroke-width="0.8"/>
<text x="66.30" y="220.20" font-size="6.3" fill="#CC1030" textLength="7.7" lengthAdjust="spacingAndGlyphs">PB</text>
<line x1="70.20" y1="229.30" x2="70.20" y2="223.60" stroke="#CC1030" stroke-width="0.8"/>
<path d="M68.90,224.70 L70.20,222.50 L71.50,224.70 Z" fill="#CC1030" stroke="none" stroke-width="0.8"/>
<line x1="35.00" y1="224.50" x2="35.00" y2="227.46" stroke="#999" stroke-width="0.5"/>
<path d="M34.20,226.90 L35.00,228.30 L35.80,226.90" fill="none" stroke="#999" stroke-width="0.5"/>
<line x1="32.30" y1="229.30" x2="108.00" y2="229.30" stroke="#222" stroke-width="1.0"/>
<path d="M106.00,227.50 L110.00,229.30 L106.00,231.10 Z" fill="#222" stroke="none" stroke-width="0.8"/>
<line x1="61.70" y1="229.30" x2="61.70" y2="231.30" stroke="#222" stroke-width="0.8"/>
<line x1="70.40" y1="229.30" x2="70.40" y2="231.30" stroke="#222" stroke-width="0.8"/>
<line x1="101.60" y1="229.30" x2="101.60" y2="231.30" stroke="#222" stroke-width="0.8"/>
<text x="99.30" y="218.80" font-size="6.7" fill="#222" textLength="9.2" lengthAdjust="spacingAndGlyphs">BM</text>
<text x="99.80" y="226.20" font-size="6.7" fill="#222" textLength="7.0" lengthAdjust="spacingAndGlyphs">PB</text>
<g transform="translate(2.74 200.68) scale(0.995 0.922)">
<path d="M8.8,45.1 L24.2,44.8" fill="none" stroke="#3a0a10" stroke-width="1.35"/>
<path d="M23.4,45.6 C23.0,41.5 23.8,36.0 26.5,34.8 C28.0,34.1 30.0,34.3 32.0,35.3 C34.0,36.3 36.0,37.3 37.6,38.1 C38.0,36.0 39.8,34.6 41.6,34.6 C43.4,34.6 44.8,36.0 44.4,37.9 C45.8,39.4 47.6,41.0 48.8,42.6 C47.5,44.8 45.5,45.8 43.0,45.8 Z" fill="#CC1030" stroke="#7a0818" stroke-width="0.35"/>
</g>
<g transform="translate(1.16 213.09) scale(0.970 0.965)">
<path d="M8.8,45.1 L24.2,44.8" fill="none" stroke="#143a12" stroke-width="1.35"/>
<path d="M23.4,45.6 C23.0,41.5 23.8,36.0 26.5,34.8 C28.0,34.1 30.0,34.3 32.0,35.3 C34.0,36.3 36.0,37.3 37.6,38.1 C38.0,36.0 39.8,34.6 41.6,34.6 C43.4,34.6 44.8,36.0 44.4,37.9 C45.8,39.4 47.6,41.0 48.8,42.6 C47.5,44.8 45.5,45.8 43.0,45.8 Z" fill="#3BB23A" stroke="#1a6a18" stroke-width="0.35"/>
</g>
<text x="61.70" y="240.10" font-size="6.8" text-anchor="middle" fill="#CC1030">0</text>
<text x="61.70" y="254.40" font-size="6.8" text-anchor="middle" fill="#3BB23A">0</text>
<text x="70.40" y="240.10" font-size="6.8" text-anchor="middle" fill="#CC1030">1</text>
<text x="70.40" y="254.40" font-size="6.8" text-anchor="middle" fill="#3BB23A">1</text>
<text x="91.20" y="240.10" font-size="6.8" fill="#CC1030" textLength="22" lengthAdjust="spacingAndGlyphs">43 days</text>
<text x="91.20" y="254.40" font-size="6.8" fill="#3BB23A" textLength="22" lengthAdjust="spacingAndGlyphs">16 days</text>
<text x="145.50" y="197.20" font-size="11.5" fill="#111" font-weight="bold">G</text>
<line x1="167.50" y1="205.50" x2="167.50" y2="248.50" stroke="#2c2c2c" stroke-width="1.25"/>
<line x1="165.00" y1="247.80" x2="167.50" y2="247.80" stroke="#2c2c2c" stroke-width="0.8"/>
<text x="162.20" y="250.00" font-size="6.4" text-anchor="end" fill="#444">0</text>
<line x1="165.00" y1="237.98" x2="167.50" y2="237.98" stroke="#2c2c2c" stroke-width="0.8"/>
<text x="162.20" y="240.18" font-size="6.4" text-anchor="end" fill="#444">500</text>
<line x1="165.00" y1="228.15" x2="167.50" y2="228.15" stroke="#2c2c2c" stroke-width="0.8"/>
<text x="162.20" y="230.35" font-size="6.4" text-anchor="end" fill="#444">1000</text>
<line x1="165.00" y1="218.33" x2="167.50" y2="218.33" stroke="#2c2c2c" stroke-width="0.8"/>
<text x="162.20" y="220.53" font-size="6.4" text-anchor="end" fill="#444">1500</text>
<line x1="165.00" y1="208.50" x2="167.50" y2="208.50" stroke="#2c2c2c" stroke-width="0.8"/>
<text x="162.20" y="210.70" font-size="6.4" text-anchor="end" fill="#444">2000</text>
<line x1="167.00" y1="248.50" x2="230.50" y2="248.50" stroke="#2c2c2c" stroke-width="1.25"/>
<line x1="167.50" y1="248.50" x2="167.50" y2="250.70" stroke="#2c2c2c" stroke-width="0.8"/>
<text x="167.50" y="259.50" font-size="6.0" text-anchor="middle" fill="#444">0</text>
<line x1="198.40" y1="248.50" x2="198.40" y2="250.70" stroke="#2c2c2c" stroke-width="0.8"/>
<text x="198.40" y="259.50" font-size="6.0" text-anchor="middle" fill="#444">10</text>
<line x1="229.30" y1="248.50" x2="229.30" y2="250.70" stroke="#2c2c2c" stroke-width="0.8"/>
<text x="229.30" y="259.50" font-size="6.0" text-anchor="middle" fill="#444">20</text>
<text x="170.00" y="272.20" font-size="7.6" fill="#444" textLength="60" lengthAdjust="spacingAndGlyphs">Days after treatment</text>
<text x="141.30" y="232.80" font-size="8.2" text-anchor="middle" fill="#444" textLength="55" lengthAdjust="spacingAndGlyphs" transform="rotate(-90 141.30 232.80)">Platelets (x10<tspan font-size="5.4" dy="-2.7">3</tspan><tspan dy="2.7">/µl)</tspan></text>
<line x1="170.80" y1="228.15" x2="217.00" y2="220.29" stroke="#c4c4d4" stroke-width="0.75"/>
<line x1="170.80" y1="229.72" x2="217.00" y2="225.20" stroke="#c4c4d4" stroke-width="0.75"/>
<line x1="170.80" y1="231.10" x2="217.00" y2="228.15" stroke="#c4c4d4" stroke-width="0.75"/>
<line x1="170.80" y1="232.87" x2="217.00" y2="230.12" stroke="#c4c4d4" stroke-width="0.75"/>
<line x1="170.80" y1="235.62" x2="217.00" y2="234.44" stroke="#c4c4d4" stroke-width="0.75"/>
<line x1="170.8" y1="247.21" x2="217" y2="217.93" stroke="#EBB040" stroke-width="2.0" stroke-dasharray="1.5,1.5" opacity="0.85"/>
<line x1="170.8" y1="246.62" x2="217" y2="225.20" stroke="#EBB040" stroke-width="2.0" stroke-dasharray="1.5,1.5" opacity="0.85"/>
<line x1="170.8" y1="247.41" x2="217" y2="229.13" stroke="#EBB040" stroke-width="2.0" stroke-dasharray="1.5,1.5" opacity="0.85"/>
<circle cx="170.80" cy="228.15" r="1.5" fill="none" stroke="#7a7a8a" stroke-width="0.6"/>
<circle cx="170.80" cy="230.12" r="1.5" fill="none" stroke="#7a7a8a" stroke-width="0.6"/>
<circle cx="170.80" cy="231.69" r="1.5" fill="none" stroke="#7a7a8a" stroke-width="0.6"/>
<circle cx="170.80" cy="233.65" r="1.5" fill="none" stroke="#7a7a8a" stroke-width="0.6"/>
<circle cx="170.80" cy="235.62" r="1.5" fill="none" stroke="#7a7a8a" stroke-width="0.6"/>
<circle cx="170.80" cy="245.84" r="1.5" fill="#D8A020" stroke="#5a4000" stroke-width="0.6"/>
<circle cx="170.80" cy="247.01" r="1.5" fill="#D8A020" stroke="#5a4000" stroke-width="0.6"/>
<circle cx="217.00" cy="217.93" r="1.4" fill="#E0A020" stroke="#5a4000" stroke-width="0.55"/>
<circle cx="217.00" cy="219.50" r="1.4" fill="#E0A020" stroke="#5a4000" stroke-width="0.55"/>
<circle cx="217.00" cy="221.08" r="1.4" fill="#E0A020" stroke="#5a4000" stroke-width="0.55"/>
<circle cx="217.00" cy="222.65" r="1.4" fill="#E0A020" stroke="#5a4000" stroke-width="0.55"/>
<circle cx="217.00" cy="224.22" r="1.4" fill="#E0A020" stroke="#5a4000" stroke-width="0.55"/>
<circle cx="217.00" cy="225.79" r="1.4" fill="#E0A020" stroke="#5a4000" stroke-width="0.55"/>
<circle cx="217.00" cy="227.36" r="1.4" fill="#E0A020" stroke="#5a4000" stroke-width="0.55"/>
<circle cx="217.00" cy="228.94" r="1.4" fill="#E0A020" stroke="#5a4000" stroke-width="0.55"/>
<circle cx="217.00" cy="230.51" r="1.4" fill="#E0A020" stroke="#5a4000" stroke-width="0.55"/>
<circle cx="217.00" cy="234.63" r="1.4" fill="none" stroke="#7080a0" stroke-width="0.6"/>
<text x="171.30" y="208.42" font-size="7.0" text-anchor="middle" fill="#222" font-weight="bold">*</text>
<text x="171.30" y="212.32" font-size="7.0" text-anchor="middle" fill="#222" font-weight="bold">*</text>
<text x="171.30" y="216.32" font-size="7.0" text-anchor="middle" fill="#222" font-weight="bold">*</text>
<text x="217.00" y="212.32" font-size="7.0" text-anchor="middle" fill="#222" font-weight="bold">*</text>
<text x="255.00" y="196.30" font-size="11.5" fill="#111" font-weight="bold">H</text>
<text x="271.00" y="201.20" font-size="5.8" fill="#9a9a9a" textLength="26.6" lengthAdjust="spacingAndGlyphs">Induction</text>
<text x="271.00" y="208.70" font-size="5.8" fill="#9a9a9a" textLength="41" lengthAdjust="spacingAndGlyphs">(DOX or TAM)</text>
<line x1="289.90" y1="212.50" x2="289.90" y2="216.36" stroke="#999" stroke-width="0.5"/>
<path d="M289.10,215.80 L289.90,217.20 L290.70,215.80" fill="none" stroke="#999" stroke-width="0.5"/>
<text x="311.30" y="211.60" font-size="5.8" fill="#F2AA48" textLength="23.9" lengthAdjust="spacingAndGlyphs">αPlt (7x)</text>
<line x1="318.00" y1="214.50" x2="332.00" y2="214.50" stroke="#F0A030" stroke-width="0.9"/>
<path d="M330.5,213.2 L334,214.5 L330.5,215.8 Z" fill="#F0A030" stroke="none" stroke-width="0.8"/>
<text x="335.20" y="203.40" font-size="6.3" fill="#CC1030" textLength="6.5" lengthAdjust="spacingAndGlyphs">PB</text>
<line x1="337.90" y1="218.70" x2="337.90" y2="206.90" stroke="#CC1030" stroke-width="0.8"/>
<path d="M336.60,208.00 L337.90,205.80 L339.20,208.00 Z" fill="#CC1030" stroke="none" stroke-width="0.8"/>
<text x="352.90" y="207.80" font-size="6.7" fill="#222" textLength="9.3" lengthAdjust="spacingAndGlyphs">BM</text>
<text x="354.00" y="215.60" font-size="6.7" fill="#222" textLength="7.8" lengthAdjust="spacingAndGlyphs">PB</text>
<line x1="288.80" y1="218.70" x2="366.40" y2="218.70" stroke="#222" stroke-width="1.0"/>
<path d="M364.40,216.90 L368.40,218.70 L364.40,220.50 Z" fill="#222" stroke="none" stroke-width="0.8"/>
<line x1="318.60" y1="218.70" x2="318.60" y2="220.70" stroke="#222" stroke-width="0.8"/>
<line x1="332.30" y1="218.70" x2="332.30" y2="220.70" stroke="#222" stroke-width="0.8"/>
<line x1="337.90" y1="218.70" x2="337.90" y2="220.70" stroke="#222" stroke-width="0.8"/>
<line x1="357.80" y1="218.70" x2="357.80" y2="220.70" stroke="#222" stroke-width="0.8"/>
<g transform="translate(259.16 189.50) scale(0.970 1.000)">
<path d="M8.8,45.1 L24.2,44.8" fill="none" stroke="#3a0a10" stroke-width="1.35"/>
<path d="M23.4,45.6 C23.0,41.5 23.8,36.0 26.5,34.8 C28.0,34.1 30.0,34.3 32.0,35.3 C34.0,36.3 36.0,37.3 37.6,38.1 C38.0,36.0 39.8,34.6 41.6,34.6 C43.4,34.6 44.8,36.0 44.4,37.9 C45.8,39.4 47.6,41.0 48.8,42.6 C47.5,44.8 45.5,45.8 43.0,45.8 Z" fill="#CC1030" stroke="#7a0818" stroke-width="0.35"/>
</g>
<g transform="translate(257.58 202.70) scale(0.980 1.000)">
<path d="M8.8,45.1 L24.2,44.8" fill="none" stroke="#143a12" stroke-width="1.35"/>
<path d="M23.4,45.6 C23.0,41.5 23.8,36.0 26.5,34.8 C28.0,34.1 30.0,34.3 32.0,35.3 C34.0,36.3 36.0,37.3 37.6,38.1 C38.0,36.0 39.8,34.6 41.6,34.6 C43.4,34.6 44.8,36.0 44.4,37.9 C45.8,39.4 47.6,41.0 48.8,42.6 C47.5,44.8 45.5,45.8 43.0,45.8 Z" fill="#3BB23A" stroke="#1a6a18" stroke-width="0.35"/>
</g>
<text x="318.20" y="231.60" font-size="6.8" text-anchor="middle" fill="#CC1030">–12</text>
<text x="318.20" y="244.90" font-size="6.8" text-anchor="middle" fill="#3BB23A">–12</text>
<text x="332.30" y="231.60" font-size="6.8" text-anchor="middle" fill="#CC1030">0</text>
<text x="332.30" y="244.90" font-size="6.8" text-anchor="middle" fill="#3BB23A">0</text>
<text x="338.00" y="231.60" font-size="6.8" text-anchor="middle" fill="#CC1030">1</text>
<text x="338.00" y="244.90" font-size="6.8" text-anchor="middle" fill="#3BB23A">1</text>
<text x="348.00" y="231.60" font-size="6.8" fill="#CC1030" textLength="21" lengthAdjust="spacingAndGlyphs">15 days</text>
<text x="348.00" y="244.90" font-size="6.8" fill="#3BB23A" textLength="21" lengthAdjust="spacingAndGlyphs">10 days</text>
<text x="381.40" y="196.30" font-size="11.5" fill="#111" font-weight="bold">I</text>
<line x1="417.50" y1="206.50" x2="417.50" y2="248.40" stroke="#2c2c2c" stroke-width="1.25"/>
<line x1="415.00" y1="247.70" x2="417.50" y2="247.70" stroke="#2c2c2c" stroke-width="0.8"/>
<text x="412.20" y="249.90" font-size="6.4" text-anchor="end" fill="#444">0</text>
<line x1="415.00" y1="237.90" x2="417.50" y2="237.90" stroke="#2c2c2c" stroke-width="0.8"/>
<text x="412.20" y="240.10" font-size="6.4" text-anchor="end" fill="#444">500</text>
<line x1="415.00" y1="228.10" x2="417.50" y2="228.10" stroke="#2c2c2c" stroke-width="0.8"/>
<text x="412.20" y="230.30" font-size="6.4" text-anchor="end" fill="#444">1000</text>
<line x1="415.00" y1="218.30" x2="417.50" y2="218.30" stroke="#2c2c2c" stroke-width="0.8"/>
<text x="412.20" y="220.50" font-size="6.4" text-anchor="end" fill="#444">1500</text>
<line x1="415.00" y1="208.50" x2="417.50" y2="208.50" stroke="#2c2c2c" stroke-width="0.8"/>
<text x="412.20" y="210.70" font-size="6.4" text-anchor="end" fill="#444">2000</text>
<line x1="417.00" y1="248.40" x2="481.00" y2="248.40" stroke="#2c2c2c" stroke-width="1.25"/>
<line x1="417.50" y1="248.40" x2="417.50" y2="250.60" stroke="#2c2c2c" stroke-width="0.8"/>
<text x="417.50" y="259.50" font-size="6.0" text-anchor="middle" fill="#444">0</text>
<line x1="448.20" y1="248.40" x2="448.20" y2="250.60" stroke="#2c2c2c" stroke-width="0.8"/>
<text x="448.20" y="259.50" font-size="6.0" text-anchor="middle" fill="#444">10</text>
<line x1="478.90" y1="248.40" x2="478.90" y2="250.60" stroke="#2c2c2c" stroke-width="0.8"/>
<text x="478.90" y="259.50" font-size="6.0" text-anchor="middle" fill="#444">20</text>
<text x="415.00" y="273.00" font-size="7.6" fill="#444" textLength="70" lengthAdjust="spacingAndGlyphs">Days after 1<tspan font-size="5" dy="-2.5">st</tspan><tspan dy="2.5"> treatment</tspan></text>
<text x="388.60" y="233.00" font-size="8.2" text-anchor="middle" fill="#444" textLength="54" lengthAdjust="spacingAndGlyphs" transform="rotate(-90 388.60 233.00)">Platelets (x10<tspan font-size="5.4" dy="-2.7">3</tspan><tspan dy="2.7">/µl)</tspan></text>
<line x1="423.70" y1="219.48" x2="463.70" y2="230.06" stroke="#a8bcd8" stroke-width="0.7"/>
<line x1="423.70" y1="223.20" x2="463.70" y2="229.08" stroke="#a8bcd8" stroke-width="0.7"/>
<line x1="423.70" y1="228.10" x2="463.70" y2="231.04" stroke="#a8bcd8" stroke-width="0.7"/>
<line x1="423.70" y1="230.06" x2="463.70" y2="228.10" stroke="#a8bcd8" stroke-width="0.7"/>
<line x1="423.70" y1="233.00" x2="463.70" y2="230.45" stroke="#a8bcd8" stroke-width="0.7"/>
<line x1="423.70" y1="234.96" x2="463.70" y2="229.08" stroke="#a8bcd8" stroke-width="0.7"/>
<line x1="423.70" y1="236.72" x2="463.70" y2="232.02" stroke="#a8bcd8" stroke-width="0.7"/>
<line x1="423.70" y1="241.23" x2="463.70" y2="233.98" stroke="#a8bcd8" stroke-width="0.7"/>
<line x1="423.70" y1="245.74" x2="463.70" y2="223.59" stroke="#F0961E" stroke-width="0.8"/>
<line x1="423.70" y1="246.72" x2="463.70" y2="227.12" stroke="#F0961E" stroke-width="0.8"/>
<line x1="423.70" y1="244.76" x2="463.70" y2="229.08" stroke="#F0961E" stroke-width="0.8"/>
<line x1="423.70" y1="247.31" x2="463.70" y2="230.45" stroke="#F0961E" stroke-width="0.8"/>
<line x1="423.70" y1="246.13" x2="463.70" y2="232.02" stroke="#F0961E" stroke-width="0.8"/>
<line x1="423.70" y1="247.70" x2="463.70" y2="233.59" stroke="#F0961E" stroke-width="0.8"/>
<line x1="423.70" y1="245.35" x2="463.70" y2="234.96" stroke="#F0961E" stroke-width="0.8"/>
<line x1="423.70" y1="246.92" x2="463.70" y2="236.72" stroke="#F0961E" stroke-width="0.8"/>
<line x1="423.70" y1="246.52" x2="463.70" y2="244.76" stroke="#F0961E" stroke-width="0.8"/>
<circle cx="423.70" cy="219.48" r="1.5" fill="none" stroke="#7a8498" stroke-width="0.65"/>
<circle cx="423.70" cy="223.20" r="1.5" fill="none" stroke="#7a8498" stroke-width="0.65"/>
<circle cx="423.70" cy="228.10" r="1.5" fill="none" stroke="#7a8498" stroke-width="0.65"/>
<circle cx="423.70" cy="230.06" r="1.5" fill="none" stroke="#7a8498" stroke-width="0.65"/>
<circle cx="423.70" cy="233.00" r="1.5" fill="none" stroke="#7a8498" stroke-width="0.65"/>
<circle cx="423.70" cy="234.96" r="1.5" fill="none" stroke="#7a8498" stroke-width="0.65"/>
<circle cx="423.70" cy="236.72" r="1.5" fill="none" stroke="#7a8498" stroke-width="0.65"/>
<circle cx="423.70" cy="241.23" r="1.5" fill="none" stroke="#7a8498" stroke-width="0.65"/>
<circle cx="423.70" cy="244.76" r="1.5" fill="none" stroke="#C07010" stroke-width="0.6"/>
<circle cx="423.70" cy="245.74" r="1.5" fill="none" stroke="#C07010" stroke-width="0.6"/>
<circle cx="423.70" cy="246.72" r="1.5" fill="none" stroke="#C07010" stroke-width="0.6"/>
<circle cx="423.70" cy="247.70" r="1.5" fill="none" stroke="#C07010" stroke-width="0.6"/>
<circle cx="463.70" cy="223.59" r="1.5" fill="none" stroke="#A85A10" stroke-width="0.75"/>
<circle cx="463.70" cy="227.12" r="1.5" fill="none" stroke="#A85A10" stroke-width="0.75"/>
<circle cx="463.70" cy="229.08" r="1.5" fill="none" stroke="#A85A10" stroke-width="0.75"/>
<circle cx="463.70" cy="230.45" r="1.5" fill="none" stroke="#A85A10" stroke-width="0.75"/>
<circle cx="463.70" cy="232.02" r="1.5" fill="none" stroke="#A85A10" stroke-width="0.75"/>
<circle cx="463.70" cy="233.59" r="1.5" fill="none" stroke="#A85A10" stroke-width="0.75"/>
<circle cx="463.70" cy="234.96" r="1.5" fill="none" stroke="#A85A10" stroke-width="0.75"/>
<circle cx="463.70" cy="236.72" r="1.5" fill="none" stroke="#A85A10" stroke-width="0.75"/>
<circle cx="463.70" cy="244.76" r="1.5" fill="none" stroke="#A85A10" stroke-width="0.75"/>
<text x="421.80" y="201.12" font-size="7.0" text-anchor="middle" fill="#222" font-weight="bold">*</text>
<text x="421.80" y="205.22" font-size="7.0" text-anchor="middle" fill="#222" font-weight="bold">*</text>
<text x="421.80" y="209.12" font-size="7.0" text-anchor="middle" fill="#222" font-weight="bold">*</text>
<text x="7.00" y="293.00" font-size="11.5" fill="#111" font-weight="bold">J</text>
<line x1="50.20" y1="297.60" x2="50.20" y2="391.00" stroke="#2c2c2c" stroke-width="1.25"/>
<line x1="47.80" y1="390.80" x2="50.20" y2="390.80" stroke="#2c2c2c" stroke-width="0.8"/>
<text x="46.00" y="392.80" font-size="5.8" text-anchor="end" fill="#444" textLength="9.2" lengthAdjust="spacingAndGlyphs">0.0</text>
<line x1="47.80" y1="345.05" x2="50.20" y2="345.05" stroke="#2c2c2c" stroke-width="0.8"/>
<text x="46.00" y="347.05" font-size="5.8" text-anchor="end" fill="#444" textLength="9.2" lengthAdjust="spacingAndGlyphs">0.5</text>
<line x1="47.80" y1="299.30" x2="50.20" y2="299.30" stroke="#2c2c2c" stroke-width="0.8"/>
<text x="46.00" y="301.30" font-size="5.8" text-anchor="end" fill="#444" textLength="9.2" lengthAdjust="spacingAndGlyphs">1.0</text>
<line x1="49.70" y1="391.00" x2="234.70" y2="391.00" stroke="#2c2c2c" stroke-width="1.25"/>
<rect x="181.60" y="295.50" width="16.80" height="7.50" fill="#C7C7CC"/>
<rect x="181.60" y="306.30" width="16.80" height="7.30" fill="#F9C78F"/>
<text x="201.50" y="301.40" font-size="5.9" fill="#444" textLength="32.3" lengthAdjust="spacingAndGlyphs">Mock serum</text>
<text x="201.50" y="312.00" font-size="5.9" fill="#444" textLength="21.9" lengthAdjust="spacingAndGlyphs">αPlt (1x)</text>
<text x="21.17" y="346.40" font-size="8.6" text-anchor="middle" fill="#444" textLength="63.5" lengthAdjust="spacingAndGlyphs" transform="rotate(-90 21.17 346.40)">Fraction of RFP<tspan font-size="5" dy="-2.5">+</tspan><tspan dy="2.5"> cells</tspan></text>
<text x="31.17" y="346.40" font-size="8.6" text-anchor="middle" fill="#444" textLength="51.7" lengthAdjust="spacingAndGlyphs" transform="rotate(-90 31.17 346.40)">relative to ES HSC</text>
<line x1="58.75" y1="391.00" x2="58.75" y2="393.20" stroke="#2c2c2c" stroke-width="0.8"/>
<line x1="55.15" y1="320.35" x2="55.15" y2="348.71" stroke="#333" stroke-width="0.55"/>
<rect x="53.05" y="325.84" width="4.20" height="18.30" fill="#C7C7CC"/>
<line x1="53.05" y1="335.90" x2="57.25" y2="335.90" stroke="#222" stroke-width="0.9"/>
<circle cx="55.15" cy="340.48" r="0.8" fill="#222"/>
<circle cx="55.15" cy="335.90" r="0.8" fill="#222"/>
<circle cx="55.15" cy="331.32" r="0.8" fill="#222"/>
<circle cx="55.15" cy="326.75" r="0.8" fill="#222"/>
<circle cx="55.15" cy="320.35" r="0.8" fill="#222" stroke="none" stroke-width="0.5"/>
<circle cx="55.15" cy="348.71" r="0.8" fill="#222" stroke="none" stroke-width="0.5"/>
<line x1="62.35" y1="303.88" x2="62.35" y2="362.44" stroke="#333" stroke-width="0.55"/>
<rect x="59.85" y="303.88" width="5.00" height="58.56" fill="#F9C78F"/>
<line x1="59.85" y1="349.62" x2="64.85" y2="349.62" stroke="#7a4a10" stroke-width="0.9"/>
<circle cx="62.35" cy="325.84" r="0.8" fill="#7a4a10"/>
<circle cx="62.35" cy="340.48" r="0.8" fill="#7a4a10"/>
<circle cx="62.35" cy="347.80" r="0.8" fill="#7a4a10"/>
<circle cx="62.35" cy="349.62" r="0.8" fill="#7a4a10"/>
<circle cx="62.35" cy="303.88" r="0.8" fill="#7a4a10" stroke="none" stroke-width="0.5"/>
<circle cx="62.35" cy="362.44" r="0.8" fill="#7a4a10" stroke="none" stroke-width="0.5"/>
<text x="58.95" y="400.60" font-size="6.9" text-anchor="end" fill="#444" transform="rotate(-45 58.95 400.60)">HSC<tspan font-size="4.3" dy="-2.2">Tie2+/lo</tspan></text>
<line x1="77.25" y1="391.00" x2="77.25" y2="393.20" stroke="#2c2c2c" stroke-width="0.8"/>
<line x1="73.65" y1="372.50" x2="73.65" y2="381.65" stroke="#333" stroke-width="0.55"/>
<rect x="71.55" y="375.25" width="4.20" height="6.41" fill="#C7C7CC"/>
<line x1="71.55" y1="379.82" x2="75.75" y2="379.82" stroke="#222" stroke-width="0.9"/>
<circle cx="73.65" cy="381.65" r="0.8" fill="#222"/>
<circle cx="73.65" cy="377.07" r="0.8" fill="#222"/>
<circle cx="73.65" cy="372.50" r="0.8" fill="#222" stroke="none" stroke-width="0.5"/>
<circle cx="73.65" cy="381.65" r="0.8" fill="#222" stroke="none" stroke-width="0.5"/>
<line x1="80.85" y1="374.33" x2="80.85" y2="383.48" stroke="#333" stroke-width="0.55"/>
<rect x="78.35" y="377.07" width="5.00" height="5.49" fill="#F9C78F"/>
<line x1="78.35" y1="378.91" x2="83.35" y2="378.91" stroke="#7a4a10" stroke-width="0.9"/>
<circle cx="80.85" cy="381.65" r="0.8" fill="#7a4a10"/>
<circle cx="80.85" cy="376.16" r="0.8" fill="#7a4a10"/>
<circle cx="80.85" cy="374.33" r="0.8" fill="#7a4a10" stroke="none" stroke-width="0.5"/>
<circle cx="80.85" cy="383.48" r="0.8" fill="#7a4a10" stroke="none" stroke-width="0.5"/>
<text x="77.45" y="400.60" font-size="6.9" text-anchor="end" fill="#444" transform="rotate(-45 77.45 400.60)">MPP</text>
<line x1="95.75" y1="391.00" x2="95.75" y2="393.20" stroke="#2c2c2c" stroke-width="0.8"/>
<line x1="92.15" y1="379.82" x2="92.15" y2="384.40" stroke="#333" stroke-width="0.55"/>
<rect x="90.05" y="380.74" width="4.20" height="3.20" fill="#C7C7CC"/>
<line x1="90.05" y1="382.56" x2="94.25" y2="382.56" stroke="#222" stroke-width="0.9"/>
<circle cx="92.15" cy="383.48" r="0.8" fill="#222"/>
<circle cx="92.15" cy="381.65" r="0.8" fill="#222"/>
<circle cx="92.15" cy="379.82" r="0.8" fill="#222" stroke="none" stroke-width="0.5"/>
<circle cx="92.15" cy="384.40" r="0.8" fill="#222" stroke="none" stroke-width="0.5"/>
<line x1="99.35" y1="381.65" x2="99.35" y2="387.14" stroke="#333" stroke-width="0.55"/>
<rect x="96.85" y="382.56" width="5.00" height="3.66" fill="#F9C78F"/>
<line x1="96.85" y1="384.40" x2="101.85" y2="384.40" stroke="#7a4a10" stroke-width="0.9"/>
<circle cx="99.35" cy="385.31" r="0.8" fill="#7a4a10"/>
<circle cx="99.35" cy="383.48" r="0.8" fill="#7a4a10"/>
<circle cx="99.35" cy="381.65" r="0.8" fill="#7a4a10" stroke="none" stroke-width="0.5"/>
<circle cx="99.35" cy="387.14" r="0.8" fill="#7a4a10" stroke="none" stroke-width="0.5"/>
<text x="95.95" y="400.60" font-size="6.9" text-anchor="end" fill="#444" transform="rotate(-45 95.95 400.60)">HPC-1</text>
<line x1="114.25" y1="391.00" x2="114.25" y2="393.20" stroke="#2c2c2c" stroke-width="0.8"/>
<line x1="110.65" y1="384.40" x2="110.65" y2="387.14" stroke="#333" stroke-width="0.55"/>
<rect x="108.55" y="384.85" width="4.20" height="1.83" fill="#C7C7CC"/>
<line x1="108.55" y1="385.77" x2="112.75" y2="385.77" stroke="#222" stroke-width="0.9"/>
<circle cx="110.65" cy="386.23" r="0.8" fill="#222"/>
<circle cx="110.65" cy="384.40" r="0.8" fill="#222" stroke="none" stroke-width="0.5"/>
<circle cx="110.65" cy="387.14" r="0.8" fill="#222" stroke="none" stroke-width="0.5"/>
<line x1="117.85" y1="385.31" x2="117.85" y2="388.97" stroke="#333" stroke-width="0.55"/>
<rect x="115.35" y="386.23" width="5.00" height="1.83" fill="#F9C78F"/>
<line x1="115.35" y1="387.14" x2="120.35" y2="387.14" stroke="#7a4a10" stroke-width="0.9"/>
<circle cx="117.85" cy="387.14" r="0.8" fill="#7a4a10"/>
<circle cx="117.85" cy="385.31" r="0.8" fill="#7a4a10" stroke="none" stroke-width="0.5"/>
<circle cx="117.85" cy="388.97" r="0.8" fill="#7a4a10" stroke="none" stroke-width="0.5"/>
<text x="114.45" y="400.60" font-size="6.9" text-anchor="end" fill="#444" transform="rotate(-45 114.45 400.60)">CMP</text>
<line x1="132.75" y1="391.00" x2="132.75" y2="393.20" stroke="#2c2c2c" stroke-width="0.8"/>
<line x1="129.15" y1="379.82" x2="129.15" y2="387.14" stroke="#333" stroke-width="0.55"/>
<rect x="127.05" y="381.65" width="4.20" height="4.57" fill="#C7C7CC"/>
<line x1="127.05" y1="384.40" x2="131.25" y2="384.40" stroke="#222" stroke-width="0.9"/>
<circle cx="129.15" cy="385.31" r="0.8" fill="#222"/>
<circle cx="129.15" cy="382.56" r="0.8" fill="#222"/>
<circle cx="129.15" cy="379.82" r="0.8" fill="#222" stroke="none" stroke-width="0.5"/>
<circle cx="129.15" cy="387.14" r="0.8" fill="#222" stroke="none" stroke-width="0.5"/>
<line x1="136.35" y1="381.65" x2="136.35" y2="388.06" stroke="#333" stroke-width="0.55"/>
<rect x="133.85" y="383.48" width="5.00" height="3.66" fill="#F9C78F"/>
<line x1="133.85" y1="385.31" x2="138.85" y2="385.31" stroke="#7a4a10" stroke-width="0.9"/>
<circle cx="136.35" cy="386.23" r="0.8" fill="#7a4a10"/>
<circle cx="136.35" cy="384.40" r="0.8" fill="#7a4a10"/>
<circle cx="136.35" cy="381.65" r="0.8" fill="#7a4a10" stroke="none" stroke-width="0.5"/>
<circle cx="136.35" cy="388.06" r="0.8" fill="#7a4a10" stroke="none" stroke-width="0.5"/>
<text x="132.95" y="400.60" font-size="6.9" text-anchor="end" fill="#444" transform="rotate(-45 132.95 400.60)">MkP<tspan font-size="4.3" dy="-2.2">CD48hi</tspan></text>
<line x1="151.25" y1="391.00" x2="151.25" y2="393.20" stroke="#2c2c2c" stroke-width="0.8"/>
<line x1="147.65" y1="361.52" x2="147.65" y2="381.65" stroke="#333" stroke-width="0.55"/>
<rect x="145.55" y="370.67" width="4.20" height="7.32" fill="#C7C7CC"/>
<line x1="145.55" y1="374.33" x2="149.75" y2="374.33" stroke="#222" stroke-width="0.9"/>
<circle cx="147.65" cy="377.07" r="0.8" fill="#222"/>
<circle cx="147.65" cy="372.50" r="0.8" fill="#222"/>
<circle cx="147.65" cy="367.93" r="0.8" fill="#222"/>
<circle cx="147.65" cy="361.52" r="0.8" fill="#222" stroke="none" stroke-width="0.5"/>
<circle cx="147.65" cy="381.65" r="0.8" fill="#222" stroke="none" stroke-width="0.5"/>
<line x1="154.85" y1="365.18" x2="154.85" y2="381.65" stroke="#333" stroke-width="0.55"/>
<rect x="152.35" y="369.75" width="5.00" height="7.32" fill="#F9C78F"/>
<line x1="152.35" y1="373.42" x2="157.35" y2="373.42" stroke="#7a4a10" stroke-width="0.9"/>
<circle cx="154.85" cy="375.25" r="0.8" fill="#7a4a10"/>
<circle cx="154.85" cy="371.59" r="0.8" fill="#7a4a10"/>
<circle cx="154.85" cy="367.93" r="0.8" fill="#7a4a10"/>
<circle cx="154.85" cy="365.18" r="0.8" fill="#7a4a10" stroke="none" stroke-width="0.5"/>
<circle cx="154.85" cy="381.65" r="0.8" fill="#7a4a10" stroke="none" stroke-width="0.5"/>
<text x="151.45" y="400.60" font-size="6.9" text-anchor="end" fill="#444" transform="rotate(-45 151.45 400.60)">MkP<tspan font-size="4.3" dy="-2.2">CD48−/lo</tspan></text>
<line x1="169.75" y1="391.00" x2="169.75" y2="393.20" stroke="#2c2c2c" stroke-width="0.8"/>
<line x1="166.15" y1="388.97" x2="166.15" y2="390.80" stroke="#333" stroke-width="0.55"/>
<rect x="164.05" y="389.43" width="4.20" height="0.92" fill="#C7C7CC"/>
<line x1="164.05" y1="389.88" x2="168.25" y2="389.88" stroke="#222" stroke-width="0.9"/>
<circle cx="166.15" cy="388.97" r="0.8" fill="#222" stroke="none" stroke-width="0.5"/>
<circle cx="166.15" cy="390.80" r="0.8" fill="#222" stroke="none" stroke-width="0.5"/>
<line x1="173.35" y1="388.97" x2="173.35" y2="390.80" stroke="#333" stroke-width="0.55"/>
<rect x="170.85" y="389.70" width="5.00" height="0.82" fill="#F9C78F"/>
<line x1="170.85" y1="390.07" x2="175.85" y2="390.07" stroke="#7a4a10" stroke-width="0.9"/>
<circle cx="173.35" cy="388.97" r="0.8" fill="#7a4a10" stroke="none" stroke-width="0.5"/>
<circle cx="173.35" cy="390.80" r="0.8" fill="#7a4a10" stroke="none" stroke-width="0.5"/>
<text x="169.95" y="400.60" font-size="6.9" text-anchor="end" fill="#444" transform="rotate(-45 169.95 400.60)">Ery</text>
<line x1="188.25" y1="391.00" x2="188.25" y2="393.20" stroke="#2c2c2c" stroke-width="0.8"/>
<line x1="184.65" y1="373.42" x2="184.65" y2="378.91" stroke="#333" stroke-width="0.55"/>
<rect x="182.55" y="374.33" width="4.20" height="3.66" fill="#C7C7CC"/>
<line x1="182.55" y1="376.16" x2="186.75" y2="376.16" stroke="#222" stroke-width="0.9"/>
<circle cx="184.65" cy="377.07" r="0.8" fill="#222"/>
<circle cx="184.65" cy="375.25" r="0.8" fill="#222"/>
<circle cx="184.65" cy="373.42" r="0.8" fill="#222" stroke="none" stroke-width="0.5"/>
<circle cx="184.65" cy="378.91" r="0.8" fill="#222" stroke="none" stroke-width="0.5"/>
<line x1="191.85" y1="357.86" x2="191.85" y2="382.56" stroke="#333" stroke-width="0.55"/>
<rect x="189.35" y="358.78" width="5.00" height="22.88" fill="#F9C78F"/>
<line x1="189.35" y1="374.33" x2="194.35" y2="374.33" stroke="#7a4a10" stroke-width="0.9"/>
<circle cx="191.85" cy="379.82" r="0.8" fill="#7a4a10"/>
<circle cx="191.85" cy="372.50" r="0.8" fill="#7a4a10"/>
<circle cx="191.85" cy="357.86" r="0.8" fill="#7a4a10" stroke="none" stroke-width="0.5"/>
<circle cx="191.85" cy="382.56" r="0.8" fill="#7a4a10" stroke="none" stroke-width="0.5"/>
<text x="188.45" y="400.60" font-size="6.9" text-anchor="end" fill="#444" transform="rotate(-45 188.45 400.60)">Plt</text>
<line x1="206.75" y1="391.00" x2="206.75" y2="393.20" stroke="#2c2c2c" stroke-width="0.8"/>
<line x1="203.15" y1="387.14" x2="203.15" y2="390.80" stroke="#333" stroke-width="0.55"/>
<rect x="201.05" y="388.97" width="4.20" height="1.37" fill="#C7C7CC"/>
<line x1="201.05" y1="389.88" x2="205.25" y2="389.88" stroke="#222" stroke-width="0.9"/>
<circle cx="203.15" cy="387.14" r="0.8" fill="#222" stroke="none" stroke-width="0.5"/>
<circle cx="203.15" cy="390.80" r="0.8" fill="#222" stroke="none" stroke-width="0.5"/>
<line x1="210.35" y1="389.88" x2="210.35" y2="390.80" stroke="#333" stroke-width="0.55"/>
<rect x="207.85" y="390.07" width="5.00" height="0.60" fill="#F9C78F"/>
<line x1="207.85" y1="390.34" x2="212.85" y2="390.34" stroke="#7a4a10" stroke-width="0.9"/>
<circle cx="210.35" cy="389.88" r="0.8" fill="#7a4a10" stroke="none" stroke-width="0.5"/>
<circle cx="210.35" cy="390.80" r="0.8" fill="#7a4a10" stroke="none" stroke-width="0.5"/>
<text x="206.95" y="400.60" font-size="6.9" text-anchor="end" fill="#444" transform="rotate(-45 206.95 400.60)">B-Cells</text>
<line x1="225.25" y1="391.00" x2="225.25" y2="393.20" stroke="#2c2c2c" stroke-width="0.8"/>
<line x1="221.65" y1="381.65" x2="221.65" y2="388.06" stroke="#333" stroke-width="0.55"/>
<rect x="219.55" y="384.40" width="4.20" height="2.74" fill="#C7C7CC"/>
<line x1="219.55" y1="386.23" x2="223.75" y2="386.23" stroke="#222" stroke-width="0.9"/>
<circle cx="221.65" cy="386.23" r="0.8" fill="#222"/>
<circle cx="221.65" cy="381.65" r="0.8" fill="#222" stroke="none" stroke-width="0.5"/>
<circle cx="221.65" cy="388.06" r="0.8" fill="#222" stroke="none" stroke-width="0.5"/>
<line x1="228.85" y1="385.31" x2="228.85" y2="388.97" stroke="#333" stroke-width="0.55"/>
<rect x="226.35" y="386.23" width="5.00" height="1.83" fill="#F9C78F"/>
<line x1="226.35" y1="387.14" x2="231.35" y2="387.14" stroke="#7a4a10" stroke-width="0.9"/>
<circle cx="228.85" cy="387.14" r="0.8" fill="#7a4a10"/>
<circle cx="228.85" cy="385.31" r="0.8" fill="#7a4a10" stroke="none" stroke-width="0.5"/>
<circle cx="228.85" cy="388.97" r="0.8" fill="#7a4a10" stroke="none" stroke-width="0.5"/>
<text x="225.45" y="400.60" font-size="6.9" text-anchor="end" fill="#444" transform="rotate(-45 225.45 400.60)">PMN</text>
<text x="258.00" y="292.30" font-size="11.5" fill="#111" font-weight="bold">K</text>
<line x1="295.60" y1="295.20" x2="295.60" y2="388.80" stroke="#2c2c2c" stroke-width="1.25"/>
<line x1="293.20" y1="388.50" x2="295.60" y2="388.50" stroke="#2c2c2c" stroke-width="0.8"/>
<text x="291.20" y="390.50" font-size="5.8" text-anchor="end" fill="#444" textLength="9.2" lengthAdjust="spacingAndGlyphs">0.0</text>
<line x1="293.20" y1="358.18" x2="295.60" y2="358.18" stroke="#2c2c2c" stroke-width="0.8"/>
<text x="291.20" y="360.18" font-size="5.8" text-anchor="end" fill="#444" textLength="9.2" lengthAdjust="spacingAndGlyphs">0.2</text>
<line x1="293.20" y1="327.86" x2="295.60" y2="327.86" stroke="#2c2c2c" stroke-width="0.8"/>
<text x="291.20" y="329.86" font-size="5.8" text-anchor="end" fill="#444" textLength="9.2" lengthAdjust="spacingAndGlyphs">0.4</text>
<line x1="293.20" y1="297.54" x2="295.60" y2="297.54" stroke="#2c2c2c" stroke-width="0.8"/>
<text x="291.20" y="299.54" font-size="5.8" text-anchor="end" fill="#444" textLength="9.2" lengthAdjust="spacingAndGlyphs">0.6</text>
<line x1="295.10" y1="388.80" x2="477.50" y2="388.80" stroke="#2c2c2c" stroke-width="1.25"/>
<rect x="410.10" y="291.00" width="16.20" height="7.20" fill="#C7C7CC"/>
<rect x="410.10" y="302.20" width="16.20" height="6.80" fill="#F0900A"/>
<text x="429.20" y="296.60" font-size="5.6" fill="#444" textLength="32.3" lengthAdjust="spacingAndGlyphs">Mock serum</text>
<text x="429.20" y="307.30" font-size="5.6" fill="#444" textLength="22.2" lengthAdjust="spacingAndGlyphs">αPlt (7x)</text>
<text x="266.20" y="341.30" font-size="8.4" text-anchor="middle" fill="#444" textLength="63.4" lengthAdjust="spacingAndGlyphs" transform="rotate(-90 266.20 341.30)">Fraction of RFP<tspan font-size="5" dy="-2.5">+</tspan><tspan dy="2.5"> cells</tspan></text>
<text x="273.70" y="342.00" font-size="8.4" text-anchor="middle" fill="#444" textLength="53" lengthAdjust="spacingAndGlyphs" transform="rotate(-90 273.70 342.00)">relative to ES HSC</text>
<line x1="305.60" y1="388.80" x2="305.60" y2="391.00" stroke="#2c2c2c" stroke-width="0.8"/>
<line x1="301.30" y1="314.22" x2="301.30" y2="346.05" stroke="#333" stroke-width="0.55"/>
<rect x="298.75" y="324.07" width="5.10" height="17.43" fill="#C7C7CC"/>
<line x1="298.75" y1="335.44" x2="303.85" y2="335.44" stroke="#222" stroke-width="0.9"/>
<circle cx="301.30" cy="338.47" r="0.85" fill="#222"/>
<circle cx="301.30" cy="335.44" r="0.85" fill="#222"/>
<circle cx="301.30" cy="332.41" r="0.85" fill="#222"/>
<circle cx="301.30" cy="327.86" r="0.85" fill="#222"/>
<circle cx="301.30" cy="314.22" r="0.85" fill="#222" stroke="none" stroke-width="0.5"/>
<circle cx="301.30" cy="346.05" r="0.85" fill="#222" stroke="none" stroke-width="0.5"/>
<line x1="310.00" y1="299.06" x2="310.00" y2="338.47" stroke="#333" stroke-width="0.55"/>
<rect x="307.05" y="302.09" width="5.90" height="30.32" fill="#F0900A"/>
<line x1="307.05" y1="317.25" x2="312.95" y2="317.25" stroke="#5a2a00" stroke-width="0.9"/>
<circle cx="310.00" cy="326.34" r="0.85" fill="#5a2a00"/>
<circle cx="310.00" cy="305.12" r="0.85" fill="#5a2a00"/>
<circle cx="310.00" cy="299.06" r="0.85" fill="#5a2a00" stroke="none" stroke-width="0.5"/>
<circle cx="310.00" cy="338.47" r="0.85" fill="#5a2a00" stroke="none" stroke-width="0.5"/>
<text x="308.60" y="398.60" font-size="6.6" text-anchor="end" fill="#444" transform="rotate(-45 308.60 398.60)">HSC<tspan font-size="4.3" dy="-2.2">Tie2+/lo</tspan></text>
<line x1="328.65" y1="388.80" x2="328.65" y2="391.00" stroke="#2c2c2c" stroke-width="0.8"/>
<line x1="324.35" y1="370.31" x2="324.35" y2="382.44" stroke="#333" stroke-width="0.55"/>
<rect x="321.80" y="371.82" width="5.10" height="7.58" fill="#C7C7CC"/>
<line x1="321.80" y1="374.86" x2="326.90" y2="374.86" stroke="#222" stroke-width="0.9"/>
<circle cx="324.35" cy="376.37" r="0.85" fill="#222"/>
<circle cx="324.35" cy="373.34" r="0.85" fill="#222"/>
<circle cx="324.35" cy="370.31" r="0.85" fill="#222" stroke="none" stroke-width="0.5"/>
<circle cx="324.35" cy="382.44" r="0.85" fill="#222" stroke="none" stroke-width="0.5"/>
<line x1="333.05" y1="358.18" x2="333.05" y2="377.89" stroke="#333" stroke-width="0.55"/>
<rect x="330.10" y="362.73" width="5.90" height="15.16" fill="#F0900A"/>
<line x1="330.10" y1="376.37" x2="336.00" y2="376.37" stroke="#5a2a00" stroke-width="0.9"/>
<circle cx="333.05" cy="367.28" r="0.85" fill="#5a2a00"/>
<circle cx="333.05" cy="358.18" r="0.85" fill="#5a2a00" stroke="none" stroke-width="0.5"/>
<circle cx="333.05" cy="377.89" r="0.85" fill="#5a2a00" stroke="none" stroke-width="0.5"/>
<text x="331.65" y="398.60" font-size="6.6" text-anchor="end" fill="#444" transform="rotate(-45 331.65 398.60)">MPP</text>
<line x1="351.70" y1="388.80" x2="351.70" y2="391.00" stroke="#2c2c2c" stroke-width="0.8"/>
<line x1="347.40" y1="379.40" x2="347.40" y2="383.95" stroke="#333" stroke-width="0.55"/>
<rect x="344.85" y="380.92" width="5.10" height="2.73" fill="#C7C7CC"/>
<line x1="344.85" y1="382.44" x2="349.95" y2="382.44" stroke="#222" stroke-width="0.9"/>
<circle cx="347.40" cy="383.19" r="0.85" fill="#222"/>
<circle cx="347.40" cy="381.68" r="0.85" fill="#222"/>
<circle cx="347.40" cy="379.40" r="0.85" fill="#222" stroke="none" stroke-width="0.5"/>
<circle cx="347.40" cy="383.95" r="0.85" fill="#222" stroke="none" stroke-width="0.5"/>
<line x1="356.10" y1="373.34" x2="356.10" y2="385.47" stroke="#333" stroke-width="0.55"/>
<rect x="353.15" y="376.37" width="5.90" height="6.06" fill="#F0900A"/>
<line x1="353.15" y1="379.40" x2="359.05" y2="379.40" stroke="#5a2a00" stroke-width="0.9"/>
<circle cx="356.10" cy="380.92" r="0.85" fill="#5a2a00"/>
<circle cx="356.10" cy="377.89" r="0.85" fill="#5a2a00"/>
<circle cx="356.10" cy="373.34" r="0.85" fill="#5a2a00" stroke="none" stroke-width="0.5"/>
<circle cx="356.10" cy="385.47" r="0.85" fill="#5a2a00" stroke="none" stroke-width="0.5"/>
<text x="354.70" y="398.60" font-size="6.6" text-anchor="end" fill="#444" transform="rotate(-45 354.70 398.60)">HPC-1</text>
<line x1="374.75" y1="388.80" x2="374.75" y2="391.00" stroke="#2c2c2c" stroke-width="0.8"/>
<line x1="370.45" y1="380.16" x2="370.45" y2="382.44" stroke="#333" stroke-width="0.55"/>
<rect x="367.90" y="380.47" width="5.10" height="1.21" fill="#C7C7CC"/>
<line x1="367.90" y1="380.92" x2="373.00" y2="380.92" stroke="#222" stroke-width="0.9"/>
<circle cx="370.45" cy="380.92" r="0.85" fill="#222"/>
<circle cx="370.45" cy="380.16" r="0.85" fill="#222" stroke="none" stroke-width="0.5"/>
<circle cx="370.45" cy="382.44" r="0.85" fill="#222" stroke="none" stroke-width="0.5"/>
<line x1="379.15" y1="374.86" x2="379.15" y2="382.44" stroke="#333" stroke-width="0.55"/>
<rect x="376.20" y="376.37" width="5.90" height="4.55" fill="#F0900A"/>
<line x1="376.20" y1="379.40" x2="382.10" y2="379.40" stroke="#5a2a00" stroke-width="0.9"/>
<circle cx="379.15" cy="380.16" r="0.85" fill="#5a2a00"/>
<circle cx="379.15" cy="377.89" r="0.85" fill="#5a2a00"/>
<circle cx="379.15" cy="374.86" r="0.85" fill="#5a2a00" stroke="none" stroke-width="0.5"/>
<circle cx="379.15" cy="382.44" r="0.85" fill="#5a2a00" stroke="none" stroke-width="0.5"/>
<text x="377.75" y="398.60" font-size="6.6" text-anchor="end" fill="#444" transform="rotate(-45 377.75 398.60)">CMP</text>
<line x1="397.80" y1="388.80" x2="397.80" y2="391.00" stroke="#2c2c2c" stroke-width="0.8"/>
<line x1="393.50" y1="373.34" x2="393.50" y2="383.95" stroke="#333" stroke-width="0.55"/>
<rect x="390.95" y="374.86" width="5.10" height="7.58" fill="#C7C7CC"/>
<line x1="390.95" y1="379.40" x2="396.05" y2="379.40" stroke="#222" stroke-width="0.9"/>
<circle cx="393.50" cy="380.92" r="0.85" fill="#222"/>
<circle cx="393.50" cy="377.89" r="0.85" fill="#222"/>
<circle cx="393.50" cy="373.34" r="0.85" fill="#222" stroke="none" stroke-width="0.5"/>
<circle cx="393.50" cy="383.95" r="0.85" fill="#222" stroke="none" stroke-width="0.5"/>
<line x1="402.20" y1="370.31" x2="402.20" y2="383.95" stroke="#333" stroke-width="0.55"/>
<rect x="399.25" y="373.34" width="5.90" height="7.58" fill="#F0900A"/>
<line x1="399.25" y1="376.37" x2="405.15" y2="376.37" stroke="#5a2a00" stroke-width="0.9"/>
<circle cx="402.20" cy="379.40" r="0.85" fill="#5a2a00"/>
<circle cx="402.20" cy="374.86" r="0.85" fill="#5a2a00"/>
<circle cx="402.20" cy="370.31" r="0.85" fill="#5a2a00" stroke="none" stroke-width="0.5"/>
<circle cx="402.20" cy="383.95" r="0.85" fill="#5a2a00" stroke="none" stroke-width="0.5"/>
<text x="400.80" y="398.60" font-size="6.6" text-anchor="end" fill="#444" transform="rotate(-45 400.80 398.60)">MkP<tspan font-size="4.3" dy="-2.2">CD48hi</tspan></text>
<line x1="420.85" y1="388.80" x2="420.85" y2="391.00" stroke="#2c2c2c" stroke-width="0.8"/>
<line x1="416.55" y1="350.60" x2="416.55" y2="367.28" stroke="#333" stroke-width="0.55"/>
<rect x="414.00" y="354.39" width="5.10" height="9.10" fill="#C7C7CC"/>
<line x1="414.00" y1="358.18" x2="419.10" y2="358.18" stroke="#222" stroke-width="0.9"/>
<circle cx="416.55" cy="361.21" r="0.85" fill="#222"/>
<circle cx="416.55" cy="356.66" r="0.85" fill="#222"/>
<circle cx="416.55" cy="350.60" r="0.85" fill="#222" stroke="none" stroke-width="0.5"/>
<circle cx="416.55" cy="367.28" r="0.85" fill="#222" stroke="none" stroke-width="0.5"/>
<line x1="425.25" y1="346.05" x2="425.25" y2="368.79" stroke="#333" stroke-width="0.55"/>
<rect x="422.30" y="352.12" width="5.90" height="12.89" fill="#F0900A"/>
<line x1="422.30" y1="358.94" x2="428.20" y2="358.94" stroke="#5a2a00" stroke-width="0.9"/>
<circle cx="425.25" cy="362.73" r="0.85" fill="#5a2a00"/>
<circle cx="425.25" cy="355.15" r="0.85" fill="#5a2a00"/>
<circle cx="425.25" cy="346.05" r="0.85" fill="#5a2a00" stroke="none" stroke-width="0.5"/>
<circle cx="425.25" cy="368.79" r="0.85" fill="#5a2a00" stroke="none" stroke-width="0.5"/>
<text x="423.85" y="398.60" font-size="6.6" text-anchor="end" fill="#444" transform="rotate(-45 423.85 398.60)">MkP<tspan font-size="4.3" dy="-2.2">CD48−/lo</tspan></text>
<line x1="443.90" y1="388.80" x2="443.90" y2="391.00" stroke="#2c2c2c" stroke-width="0.8"/>
<line x1="439.60" y1="383.95" x2="439.60" y2="388.50" stroke="#333" stroke-width="0.55"/>
<rect x="437.05" y="385.47" width="5.10" height="2.27" fill="#C7C7CC"/>
<line x1="437.05" y1="386.98" x2="442.15" y2="386.98" stroke="#222" stroke-width="0.9"/>
<circle cx="439.60" cy="383.95" r="0.85" fill="#222" stroke="none" stroke-width="0.5"/>
<circle cx="439.60" cy="388.50" r="0.85" fill="#222" stroke="none" stroke-width="0.5"/>
<line x1="448.30" y1="386.98" x2="448.30" y2="388.50" stroke="#333" stroke-width="0.55"/>
<rect x="445.35" y="387.29" width="5.90" height="0.91" fill="#F0900A"/>
<line x1="445.35" y1="387.74" x2="451.25" y2="387.74" stroke="#5a2a00" stroke-width="0.9"/>
<circle cx="448.30" cy="386.98" r="0.85" fill="#5a2a00" stroke="none" stroke-width="0.5"/>
<circle cx="448.30" cy="388.50" r="0.85" fill="#5a2a00" stroke="none" stroke-width="0.5"/>
<text x="446.90" y="398.60" font-size="6.6" text-anchor="end" fill="#444" transform="rotate(-45 446.90 398.60)">Ery</text>
<line x1="466.95" y1="388.80" x2="466.95" y2="391.00" stroke="#2c2c2c" stroke-width="0.8"/>
<line x1="462.65" y1="356.66" x2="462.65" y2="367.28" stroke="#333" stroke-width="0.55"/>
<rect x="460.10" y="362.73" width="5.10" height="3.03" fill="#C7C7CC"/>
<line x1="460.10" y1="364.24" x2="465.20" y2="364.24" stroke="#222" stroke-width="0.9"/>
<circle cx="462.65" cy="365.00" r="0.85" fill="#222"/>
<circle cx="462.65" cy="363.49" r="0.85" fill="#222"/>
<circle cx="462.65" cy="356.66" r="0.85" fill="#222" stroke="none" stroke-width="0.5"/>
<circle cx="462.65" cy="367.28" r="0.85" fill="#222" stroke="none" stroke-width="0.5"/>
<line x1="471.35" y1="346.05" x2="471.35" y2="374.25" stroke="#333" stroke-width="0.55"/>
<rect x="468.40" y="349.84" width="5.90" height="24.41" fill="#F0900A"/>
<line x1="468.40" y1="354.39" x2="474.30" y2="354.39" stroke="#5a2a00" stroke-width="0.9"/>
<circle cx="471.35" cy="373.34" r="0.85" fill="#5a2a00"/>
<circle cx="471.35" cy="352.12" r="0.85" fill="#5a2a00"/>
<circle cx="471.35" cy="346.05" r="0.85" fill="#5a2a00" stroke="none" stroke-width="0.5"/>
<circle cx="471.35" cy="374.25" r="0.85" fill="#5a2a00" stroke="none" stroke-width="0.5"/>
<text x="469.95" y="398.60" font-size="6.6" text-anchor="end" fill="#444" transform="rotate(-45 469.95 398.60)">Plt</text>
<text x="8.00" y="447.60" font-size="11.5" fill="#111" font-weight="bold">L</text>
<line x1="34.80" y1="460.40" x2="34.80" y2="571.60" stroke="#2c2c2c" stroke-width="1.25"/>
<line x1="32.40" y1="461.90" x2="34.80" y2="461.90" stroke="#2c2c2c" stroke-width="0.8"/>
<text x="30.60" y="464.00" font-size="6.0" text-anchor="end" fill="#444">4</text>
<line x1="32.40" y1="498.60" x2="34.80" y2="498.60" stroke="#2c2c2c" stroke-width="0.8"/>
<text x="30.60" y="500.70" font-size="6.0" text-anchor="end" fill="#444">2</text>
<line x1="32.40" y1="535.30" x2="34.80" y2="535.30" stroke="#2c2c2c" stroke-width="0.8"/>
<text x="30.60" y="537.40" font-size="6.0" text-anchor="end" fill="#444">0</text>
<line x1="32.40" y1="572.00" x2="34.80" y2="572.00" stroke="#2c2c2c" stroke-width="0.8"/>
<text x="30.60" y="574.10" font-size="6.0" text-anchor="end" fill="#444">−2</text>
<line x1="34.30" y1="571.60" x2="186.80" y2="571.60" stroke="#2c2c2c" stroke-width="1.25"/>
<line x1="35.5" y1="535.30" x2="186.8" y2="535.30" stroke="#555" stroke-width="0.6" stroke-dasharray="1,1.2"/>
<rect x="144.80" y="460.30" width="15.80" height="6.20" fill="#F9C78F"/>
<rect x="144.80" y="470.70" width="15.80" height="6.40" fill="#F0900A"/>
<text x="164.60" y="465.60" font-size="5.5" fill="#444" textLength="19" lengthAdjust="spacingAndGlyphs">αPlt (1x)</text>
<text x="164.60" y="476.20" font-size="5.5" fill="#444" textLength="19" lengthAdjust="spacingAndGlyphs">αPlt (7x)</text>
<text x="16.63" y="514.30" font-size="8.2" text-anchor="middle" fill="#444" textLength="62" lengthAdjust="spacingAndGlyphs" transform="rotate(-90 16.63 514.30)">Additional divisions</text>
<line x1="44.70" y1="571.60" x2="44.70" y2="573.80" stroke="#2c2c2c" stroke-width="0.8"/>
<line x1="39.80" y1="520.62" x2="39.80" y2="539.89" stroke="#333" stroke-width="0.55"/>
<rect x="36.70" y="523.37" width="6.20" height="6.42" fill="#F9C78F"/>
<line x1="36.70" y1="526.12" x2="42.90" y2="526.12" stroke="#3a3a3a" stroke-width="0.9"/>
<circle cx="39.80" cy="527.96" r="0.85" fill="#3a3a3a"/>
<circle cx="39.80" cy="525.21" r="0.85" fill="#3a3a3a"/>
<circle cx="39.80" cy="522.45" r="0.85" fill="#3a3a3a"/>
<circle cx="39.80" cy="520.62" r="0.85" fill="#3a3a3a" stroke="none" stroke-width="0.5"/>
<circle cx="39.80" cy="539.89" r="0.85" fill="#3a3a3a" stroke="none" stroke-width="0.5"/>
<circle cx="39.80" cy="508.69" r="0.85" fill="#333" stroke="none" stroke-width="0.5"/>
<line x1="49.60" y1="512.36" x2="49.60" y2="516.95" stroke="#333" stroke-width="0.55"/>
<rect x="46.10" y="512.36" width="7.00" height="4.59" fill="#F0900A"/>
<line x1="46.10" y1="515.12" x2="53.10" y2="515.12" stroke="#3a2a10" stroke-width="0.9"/>
<circle cx="49.60" cy="516.03" r="0.85" fill="#3a2a10"/>
<circle cx="49.60" cy="514.20" r="0.85" fill="#3a2a10"/>
<circle cx="49.60" cy="512.36" r="0.85" fill="#3a2a10" stroke="none" stroke-width="0.5"/>
<circle cx="49.60" cy="516.95" r="0.85" fill="#3a2a10" stroke="none" stroke-width="0.5"/>
<circle cx="49.60" cy="498.60" r="0.85" fill="#333" stroke="none" stroke-width="0.5"/>
<circle cx="49.60" cy="494.93" r="0.85" fill="#333" stroke="none" stroke-width="0.5"/>
<text x="47.30" y="582.60" font-size="6.1" text-anchor="end" fill="#444" transform="rotate(-45 47.30 582.60)">ES HSC</text>
<line x1="70.50" y1="571.60" x2="70.50" y2="573.80" stroke="#2c2c2c" stroke-width="0.8"/>
<line x1="65.60" y1="520.62" x2="65.60" y2="546.31" stroke="#333" stroke-width="0.55"/>
<rect x="62.50" y="527.04" width="6.20" height="5.50" fill="#F9C78F"/>
<line x1="62.50" y1="529.79" x2="68.70" y2="529.79" stroke="#3a3a3a" stroke-width="0.9"/>
<circle cx="65.60" cy="531.63" r="0.85" fill="#3a3a3a"/>
<circle cx="65.60" cy="528.88" r="0.85" fill="#3a3a3a"/>
<circle cx="65.60" cy="520.62" r="0.85" fill="#3a3a3a" stroke="none" stroke-width="0.5"/>
<circle cx="65.60" cy="546.31" r="0.85" fill="#3a3a3a" stroke="none" stroke-width="0.5"/>
<line x1="75.40" y1="514.20" x2="75.40" y2="529.79" stroke="#333" stroke-width="0.55"/>
<rect x="71.90" y="516.95" width="7.00" height="11.93" fill="#F0900A"/>
<line x1="71.90" y1="527.04" x2="78.90" y2="527.04" stroke="#3a2a10" stroke-width="0.9"/>
<circle cx="75.40" cy="526.12" r="0.85" fill="#3a2a10"/>
<circle cx="75.40" cy="518.78" r="0.85" fill="#3a2a10"/>
<circle cx="75.40" cy="514.20" r="0.85" fill="#3a2a10" stroke="none" stroke-width="0.5"/>
<circle cx="75.40" cy="529.79" r="0.85" fill="#3a2a10" stroke="none" stroke-width="0.5"/>
<circle cx="75.40" cy="500.43" r="0.85" fill="#333" stroke="none" stroke-width="0.5"/>
<text x="73.10" y="582.60" font-size="6.1" text-anchor="end" fill="#444" transform="rotate(-45 73.10 582.60)">HSC<tspan font-size="4.3" dy="-2.2">Tie2+/lo</tspan></text>
<line x1="96.30" y1="571.60" x2="96.30" y2="573.80" stroke="#2c2c2c" stroke-width="0.8"/>
<line x1="91.40" y1="522.45" x2="91.40" y2="555.48" stroke="#333" stroke-width="0.55"/>
<rect x="88.30" y="527.96" width="6.20" height="5.50" fill="#F9C78F"/>
<line x1="88.30" y1="530.71" x2="94.50" y2="530.71" stroke="#3a3a3a" stroke-width="0.9"/>
<circle cx="91.40" cy="531.63" r="0.85" fill="#3a3a3a"/>
<circle cx="91.40" cy="529.79" r="0.85" fill="#3a3a3a"/>
<circle cx="91.40" cy="522.45" r="0.85" fill="#3a3a3a" stroke="none" stroke-width="0.5"/>
<circle cx="91.40" cy="555.48" r="0.85" fill="#3a3a3a" stroke="none" stroke-width="0.5"/>
<line x1="101.20" y1="518.78" x2="101.20" y2="525.21" stroke="#333" stroke-width="0.55"/>
<rect x="97.70" y="519.70" width="7.00" height="5.50" fill="#F0900A"/>
<line x1="97.70" y1="524.29" x2="104.70" y2="524.29" stroke="#3a2a10" stroke-width="0.9"/>
<circle cx="101.20" cy="524.29" r="0.85" fill="#3a2a10"/>
<circle cx="101.20" cy="520.62" r="0.85" fill="#3a2a10"/>
<circle cx="101.20" cy="518.78" r="0.85" fill="#3a2a10" stroke="none" stroke-width="0.5"/>
<circle cx="101.20" cy="525.21" r="0.85" fill="#3a2a10" stroke="none" stroke-width="0.5"/>
<circle cx="101.20" cy="504.10" r="0.85" fill="#333" stroke="none" stroke-width="0.5"/>
<circle cx="101.20" cy="500.43" r="0.85" fill="#333" stroke="none" stroke-width="0.5"/>
<text x="98.90" y="582.60" font-size="6.1" text-anchor="end" fill="#444" transform="rotate(-45 98.90 582.60)">MPP</text>
<line x1="122.10" y1="571.60" x2="122.10" y2="573.80" stroke="#2c2c2c" stroke-width="0.8"/>
<line x1="117.20" y1="524.29" x2="117.20" y2="543.56" stroke="#333" stroke-width="0.55"/>
<rect x="114.10" y="527.04" width="6.20" height="5.50" fill="#F9C78F"/>
<line x1="114.10" y1="528.88" x2="120.30" y2="528.88" stroke="#3a3a3a" stroke-width="0.9"/>
<circle cx="117.20" cy="530.71" r="0.85" fill="#3a3a3a"/>
<circle cx="117.20" cy="527.96" r="0.85" fill="#3a3a3a"/>
<circle cx="117.20" cy="524.29" r="0.85" fill="#3a3a3a" stroke="none" stroke-width="0.5"/>
<circle cx="117.20" cy="543.56" r="0.85" fill="#3a3a3a" stroke="none" stroke-width="0.5"/>
<line x1="127.00" y1="516.03" x2="127.00" y2="541.72" stroke="#333" stroke-width="0.55"/>
<rect x="123.50" y="517.87" width="7.00" height="21.10" fill="#F0900A"/>
<line x1="123.50" y1="533.46" x2="130.50" y2="533.46" stroke="#3a2a10" stroke-width="0.9"/>
<circle cx="127.00" cy="527.96" r="0.85" fill="#3a2a10"/>
<circle cx="127.00" cy="540.80" r="0.85" fill="#3a2a10"/>
<circle cx="127.00" cy="516.03" r="0.85" fill="#3a2a10" stroke="none" stroke-width="0.5"/>
<circle cx="127.00" cy="541.72" r="0.85" fill="#3a2a10" stroke="none" stroke-width="0.5"/>
<text x="124.70" y="582.60" font-size="6.1" text-anchor="end" fill="#444" transform="rotate(-45 124.70 582.60)">HPC-1</text>
<line x1="147.90" y1="571.60" x2="147.90" y2="573.80" stroke="#2c2c2c" stroke-width="0.8"/>
<line x1="143.00" y1="524.29" x2="143.00" y2="549.06" stroke="#333" stroke-width="0.55"/>
<rect x="139.90" y="525.21" width="6.20" height="10.09" fill="#F9C78F"/>
<line x1="139.90" y1="528.88" x2="146.10" y2="528.88" stroke="#3a3a3a" stroke-width="0.9"/>
<circle cx="143.00" cy="531.63" r="0.85" fill="#3a3a3a"/>
<circle cx="143.00" cy="526.12" r="0.85" fill="#3a3a3a"/>
<circle cx="143.00" cy="524.29" r="0.85" fill="#3a3a3a" stroke="none" stroke-width="0.5"/>
<circle cx="143.00" cy="549.06" r="0.85" fill="#3a3a3a" stroke="none" stroke-width="0.5"/>
<line x1="152.80" y1="517.87" x2="152.80" y2="538.97" stroke="#333" stroke-width="0.55"/>
<rect x="149.30" y="518.78" width="7.00" height="16.51" fill="#F0900A"/>
<line x1="149.30" y1="527.96" x2="156.30" y2="527.96" stroke="#3a2a10" stroke-width="0.9"/>
<circle cx="152.80" cy="533.46" r="0.85" fill="#3a2a10"/>
<circle cx="152.80" cy="522.45" r="0.85" fill="#3a2a10"/>
<circle cx="152.80" cy="517.87" r="0.85" fill="#3a2a10" stroke="none" stroke-width="0.5"/>
<circle cx="152.80" cy="538.97" r="0.85" fill="#3a2a10" stroke="none" stroke-width="0.5"/>
<text x="150.50" y="582.60" font-size="6.1" text-anchor="end" fill="#444" transform="rotate(-45 150.50 582.60)">MkP<tspan font-size="4.3" dy="-2.2">CD48hi</tspan></text>
<line x1="173.70" y1="571.60" x2="173.70" y2="573.80" stroke="#2c2c2c" stroke-width="0.8"/>
<line x1="168.80" y1="522.45" x2="168.80" y2="544.47" stroke="#333" stroke-width="0.55"/>
<rect x="165.70" y="527.96" width="6.20" height="4.59" fill="#F9C78F"/>
<line x1="165.70" y1="529.79" x2="171.90" y2="529.79" stroke="#3a3a3a" stroke-width="0.9"/>
<circle cx="168.80" cy="531.63" r="0.85" fill="#3a3a3a"/>
<circle cx="168.80" cy="528.88" r="0.85" fill="#3a3a3a"/>
<circle cx="168.80" cy="522.45" r="0.85" fill="#3a3a3a" stroke="none" stroke-width="0.5"/>
<circle cx="168.80" cy="544.47" r="0.85" fill="#3a3a3a" stroke="none" stroke-width="0.5"/>
<line x1="178.60" y1="523.37" x2="178.60" y2="533.46" stroke="#333" stroke-width="0.55"/>
<rect x="175.10" y="524.29" width="7.00" height="9.17" fill="#F0900A"/>
<line x1="175.10" y1="527.96" x2="182.10" y2="527.96" stroke="#3a2a10" stroke-width="0.9"/>
<circle cx="178.60" cy="529.79" r="0.85" fill="#3a2a10"/>
<circle cx="178.60" cy="526.12" r="0.85" fill="#3a2a10"/>
<circle cx="178.60" cy="523.37" r="0.85" fill="#3a2a10" stroke="none" stroke-width="0.5"/>
<circle cx="178.60" cy="533.46" r="0.85" fill="#3a2a10" stroke="none" stroke-width="0.5"/>
<circle cx="178.60" cy="505.94" r="0.85" fill="#333" stroke="none" stroke-width="0.5"/>
<text x="176.30" y="582.60" font-size="6.1" text-anchor="end" fill="#444" transform="rotate(-45 176.30 582.60)">MkP<tspan font-size="4.3" dy="-2.2">CD48−/lo</tspan></text>
<text x="257.00" y="448.60" font-size="11.5" fill="#111" font-weight="bold">M</text>
<path d="M371.00,487.75 L394.66,505.94 L408.45,526.33 L408.45,550.67 L393.63,569.65 L371.00,576.12 L343.74,576.02 L332.72,550.94 L333.55,526.33 L346.83,505.23 Z" fill="#DEDEE3" stroke="none" stroke-width="0.8"/>
<path d="M371.00,521.00 L381.29,524.34 L387.64,533.09 L387.64,543.91 L381.29,552.66 L371.00,556.00 L360.71,552.66 L354.36,543.91 L354.36,533.09 L360.71,524.34 Z" fill="none" stroke="#D2D2D4" stroke-width="0.9"/>
<path d="M371.00,503.50 L391.57,510.18 L404.29,527.68 L404.29,549.32 L391.57,566.82 L371.00,573.50 L350.43,566.82 L337.71,549.32 L337.71,527.68 L350.43,510.18 Z" fill="none" stroke="#D2D2D4" stroke-width="0.9"/>
<path d="M371.00,486.00 L401.86,496.03 L420.93,522.28 L420.93,554.72 L401.86,580.97 L371.00,591.00 L340.14,580.97 L321.07,554.72 L321.07,522.28 L340.14,496.03 Z" fill="none" stroke="#D2D2D4" stroke-width="0.9"/>
<path d="M371.00,468.50 L412.14,481.87 L437.57,516.87 L437.57,560.13 L412.14,595.13 L371.00,608.50 L329.86,595.13 L304.43,560.13 L304.43,516.87 L329.86,481.87 Z" fill="none" stroke="#D2D2D4" stroke-width="0.9"/>
<path d="M371.00,451.00 L422.43,467.71 L454.22,511.46 L454.22,565.54 L422.43,609.29 L371.00,626.00 L319.57,609.29 L287.78,565.54 L287.78,511.46 L319.57,467.71 Z" fill="none" stroke="#D2D2D4" stroke-width="0.9"/>
<line x1="371.00" y1="538.50" x2="371.00" y2="451.00" stroke="#D4D4D6" stroke-width="0.8"/>
<line x1="371.00" y1="538.50" x2="422.43" y2="467.71" stroke="#D4D4D6" stroke-width="0.8"/>
<line x1="371.00" y1="538.50" x2="454.22" y2="511.46" stroke="#D4D4D6" stroke-width="0.8"/>
<line x1="371.00" y1="538.50" x2="454.22" y2="565.54" stroke="#D4D4D6" stroke-width="0.8"/>
<line x1="371.00" y1="538.50" x2="422.43" y2="609.29" stroke="#D4D4D6" stroke-width="0.8"/>
<line x1="371.00" y1="538.50" x2="371.00" y2="626.00" stroke="#D4D4D6" stroke-width="0.8"/>
<line x1="371.00" y1="538.50" x2="319.57" y2="609.29" stroke="#D4D4D6" stroke-width="0.8"/>
<line x1="371.00" y1="538.50" x2="287.78" y2="565.54" stroke="#D4D4D6" stroke-width="0.8"/>
<line x1="371.00" y1="538.50" x2="287.78" y2="511.46" stroke="#D4D4D6" stroke-width="0.8"/>
<line x1="371.00" y1="538.50" x2="319.57" y2="467.71" stroke="#D4D4D6" stroke-width="0.8"/>
<text x="372.30" y="453.90" font-size="6.4" fill="#444">30</text>
<text x="372.30" y="470.50" font-size="6.4" fill="#444">20</text>
<text x="372.30" y="487.30" font-size="6.4" fill="#444">10</text>
<text x="372.30" y="503.70" font-size="6.4" fill="#444">0</text>
<text x="371.00" y="519.90" font-size="6.4" fill="#444">−10</text>
<text x="372.30" y="530.20" font-size="6.4" fill="#444" textLength="23.5" lengthAdjust="spacingAndGlyphs">(% label</text>
<text x="372.30" y="537.60" font-size="6.4" fill="#444" textLength="24.5" lengthAdjust="spacingAndGlyphs">increase)</text>
<path d="M371.00,503.50 L391.57,510.18 L404.29,527.68 L404.29,549.32 L391.57,566.82 L371.00,573.50 L350.43,566.82 L337.71,549.32 L337.71,527.68 L350.43,510.18 Z" fill="none" stroke="#4a4a4a" stroke-width="0.8"/>
<path d="M371.00,518.55 L390.13,512.17 L402.62,528.23 L402.62,548.77 L391.57,566.82 L371.00,573.85 L349.81,567.67 L340.38,548.45 L340.38,528.55 L350.43,510.18 Z" fill="none" stroke="#D89040" stroke-width="1.0" stroke-dasharray="2,1.5"/>
<path d="M371.00,502.62 L394.14,506.64 L406.78,526.87 L406.78,550.13 L392.81,568.51 L371.00,574.90 L350.12,567.24 L336.38,549.75 L334.72,526.71 L348.06,506.93 Z" fill="none" stroke="#F0B050" stroke-width="1.6" opacity="0.9"/>
<path d="M371.00,486.00 L393.94,506.93 L407.62,526.60 L407.62,550.40 L393.12,568.94 L371.00,575.42 L349.40,568.23 L334.55,550.34 L335.22,526.87 L347.34,505.94 Z" fill="none" stroke="#F0C030" stroke-width="0.9"/>
<path d="M371.00,470.25 L409.88,484.98 L408.95,526.17 L405.78,549.80 L401.14,579.98 L371.00,592.58 L328.52,596.97 L315.58,556.51 L317.91,521.25 L335.10,489.09 Z" fill="none" stroke="#2E4A7D" stroke-width="0.9"/>
<circle cx="371.00" cy="470.25" r="0.8" fill="#1e2e50" stroke="none" stroke-width="0.5"/>
<circle cx="409.88" cy="484.98" r="0.8" fill="#1e2e50" stroke="none" stroke-width="0.5"/>
<circle cx="408.95" cy="526.17" r="0.8" fill="#1e2e50" stroke="none" stroke-width="0.5"/>
<circle cx="405.78" cy="549.80" r="0.8" fill="#1e2e50" stroke="none" stroke-width="0.5"/>
<circle cx="401.14" cy="579.98" r="0.8" fill="#1e2e50" stroke="none" stroke-width="0.5"/>
<circle cx="371.00" cy="592.58" r="0.8" fill="#1e2e50" stroke="none" stroke-width="0.5"/>
<circle cx="328.52" cy="596.97" r="0.8" fill="#1e2e50" stroke="none" stroke-width="0.5"/>
<circle cx="315.58" cy="556.51" r="0.8" fill="#1e2e50" stroke="none" stroke-width="0.5"/>
<circle cx="317.91" cy="521.25" r="0.8" fill="#1e2e50" stroke="none" stroke-width="0.5"/>
<circle cx="335.10" cy="489.09" r="0.8" fill="#1e2e50" stroke="none" stroke-width="0.5"/>
<text x="352.70" y="445.20" font-size="6.8" fill="#444" textLength="33.5" lengthAdjust="spacingAndGlyphs">Sca-1<tspan font-size="4" dy="-2">hi</tspan><tspan dy="2"> HSC</tspan></text>
<text x="426.00" y="467.00" font-size="6.8" fill="#444" textLength="7.2" lengthAdjust="spacingAndGlyphs">Plt</text>
<text x="459.00" y="516.30" font-size="6.8" fill="#444" textLength="11.5" lengthAdjust="spacingAndGlyphs">Erys</text>
<text x="459.50" y="570.70" font-size="6.8" fill="#444" textLength="20.2" lengthAdjust="spacingAndGlyphs">B-Cells</text>
<text x="421.00" y="621.90" font-size="6.8" fill="#444" textLength="14" lengthAdjust="spacingAndGlyphs">Neut</text>
<text x="362.00" y="639.60" font-size="6.8" fill="#444" textLength="14" lengthAdjust="spacingAndGlyphs">CMP</text>
<text x="295.60" y="624.20" font-size="6.8" fill="#444" textLength="30.5" lengthAdjust="spacingAndGlyphs">MkP<tspan font-size="4.2" dy="-2.6">CD48−/lo</tspan></text>
<text x="268.50" y="578.80" font-size="6.8" fill="#444" textLength="27.2" lengthAdjust="spacingAndGlyphs">MkP<tspan font-size="4.2" dy="-2.6">CD48hi</tspan></text>
<text x="270.80" y="509.10" font-size="6.8" fill="#444" textLength="17.7" lengthAdjust="spacingAndGlyphs">HPC-1</text>
<text x="308.90" y="465.70" font-size="6.8" fill="#444" textLength="12.9" lengthAdjust="spacingAndGlyphs">MPP</text>
<line x1="457.40" y1="440.10" x2="467.20" y2="440.10" stroke="#7a7a7a" stroke-width="1.3"/>
<text x="473.10" y="441.70" font-size="6.2" fill="#444" textLength="36.1" lengthAdjust="spacingAndGlyphs">Control mean</text>
<line x1="457.40" y1="447.90" x2="467.20" y2="447.90" stroke="#dddddd" stroke-width="1.0"/>
<text x="473.10" y="449.50" font-size="6.2" fill="#444" textLength="29.4" lengthAdjust="spacingAndGlyphs">Control SD</text>
<line x1="457.40" y1="455.60" x2="467.20" y2="455.60" stroke="#F0C030" stroke-width="0.9"/>
<text x="473.10" y="457.20" font-size="6.2" fill="#444" textLength="10.5" lengthAdjust="spacingAndGlyphs">PHZ</text>
<line x1="457.40" y1="463.70" x2="467.20" y2="463.70" stroke="#E0A050" stroke-width="0.9" stroke-dasharray="2,1.4"/>
<text x="473.10" y="465.30" font-size="6.2" fill="#444" textLength="21.5" lengthAdjust="spacingAndGlyphs">αPlt (1x)</text>
<line x1="457.40" y1="471.10" x2="467.20" y2="471.10" stroke="#F0B878" stroke-width="1.5"/>
<text x="473.10" y="472.70" font-size="6.2" fill="#444" textLength="21.5" lengthAdjust="spacingAndGlyphs">αPlt (7x)</text>
<line x1="457.40" y1="478.90" x2="467.20" y2="478.90" stroke="#2E4A7D" stroke-width="1.0"/>
<text x="473.10" y="480.50" font-size="6.2" fill="#444" textLength="12.5" lengthAdjust="spacingAndGlyphs">5-FU</text>
<rect x="0.5" y="0.5" width="519" height="647" fill="none" stroke="#5c5c5c" stroke-width="1"/>
</svg>
</body></html>
